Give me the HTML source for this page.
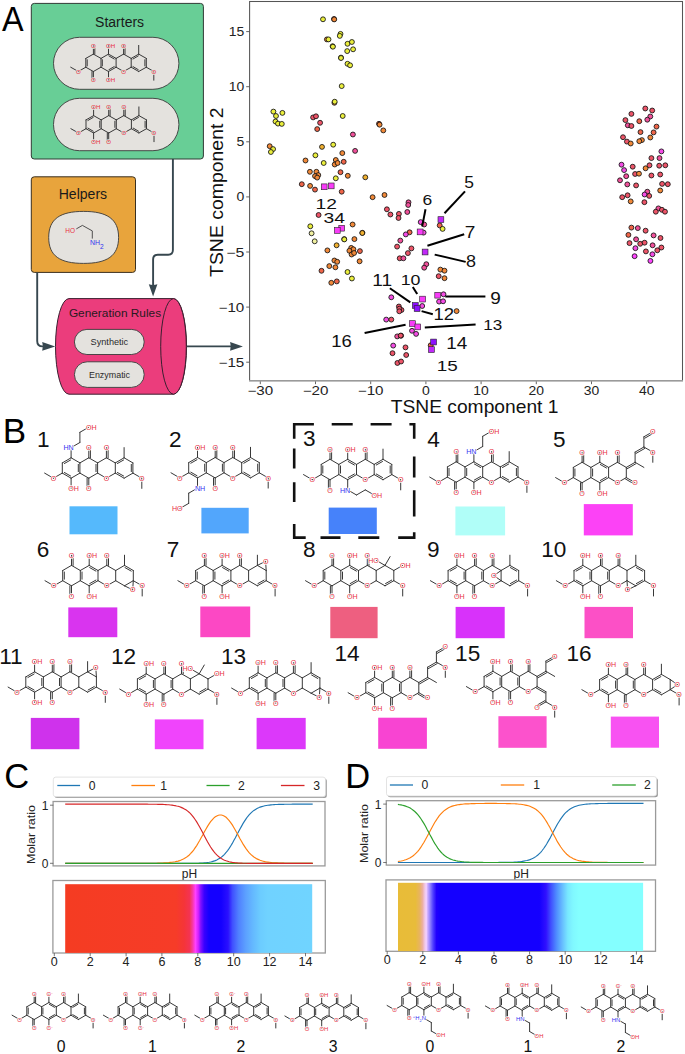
<!DOCTYPE html>
<html><head><meta charset="utf-8"><style>
html,body{margin:0;padding:0;background:#fff;}
body{width:685px;height:1054px;overflow:hidden;position:relative;}
svg{position:absolute;left:0;top:0;}
text{font-family:"Liberation Sans", sans-serif;}
.lb{paint-order:stroke;stroke:#fff;stroke-width:1.5px;stroke-linejoin:round;}
.molA .lb{stroke:#e4e2de;}
</style></head><body>
<svg width="685" height="1054" viewBox="0 0 685 1054">
<text x="2" y="30.8" font-size="35.5" fill="#000" textLength="21.6" lengthAdjust="spacingAndGlyphs">A</text>
<rect x="31.3" y="3.4" width="172.1" height="155.6" rx="3" fill="#68ce96" stroke="#2f3a34" stroke-width="1"/>
<text x="119.6" y="26.6" font-size="14" text-anchor="middle" fill="#1a1a1a" textLength="49" lengthAdjust="spacingAndGlyphs">Starters</text>
<rect x="53.5" y="37.3" width="125.4" height="52" rx="26" fill="#e4e2de" stroke="#3a3a3a" stroke-width="0.9"/>
<rect x="53.5" y="98.3" width="125.4" height="52.4" rx="26" fill="#e4e2de" stroke="#3a3a3a" stroke-width="0.9"/>
<rect x="31.3" y="176.8" width="104.2" height="95.6" rx="3" fill="#e8a43c" stroke="#3a3020" stroke-width="1"/>
<text x="82.9" y="198.9" font-size="14" text-anchor="middle" fill="#1a1a1a" textLength="48.4" lengthAdjust="spacingAndGlyphs">Helpers</text>
<path d="M48.7,237.4 C48.7,219 60,211.4 83.6,211.4 C107,211.4 118.6,219 118.6,237.4 C118.6,256 107,263.4 83.6,263.4 C60,263.4 48.7,256 48.7,237.4 Z" fill="#e4e2de" stroke="#3a3a3a" stroke-width="0.9"/>
<path d="M76.3,228.9 L82.4,225.4 L92.3,230.9 L92.3,238.6" stroke="#404040" stroke-width="0.9" fill="none"/>
<text x="70.2" y="233.4" font-size="7.3" fill="#e8303f" text-anchor="middle" textLength="9.7" lengthAdjust="spacingAndGlyphs">HO</text>
<text x="90" y="245.1" font-size="7.3" fill="#3434f0" textLength="10" lengthAdjust="spacingAndGlyphs">NH</text><text x="99.9" y="248.6" font-size="6.6" fill="#3434f0">2</text>
<path d="M172.9,159 L172.9,250 Q172.9,254.7 168.2,254.7 L157.8,254.7 Q153.1,254.7 153.1,259.4 L153.1,286" stroke="#37474f" stroke-width="1.9" fill="none"/>
<path d="M148.8,284.2 Q153.1,285.6 157.4,284.2 L153.1,296.6 Z" fill="#37474f"/>
<path d="M37.2,272.5 L37.2,341 Q37.2,346.4 42.6,346.4 L46,346.4" stroke="#37474f" stroke-width="1.9" fill="none"/>
<path d="M42.2,342.1 Q43.6,346.4 42.2,350.7 L55.2,346.4 Z" fill="#37474f"/>
<path d="M186.3,346.4 L233,346.4" stroke="#37474f" stroke-width="1.9" fill="none"/>
<path d="M230.1,342.1 Q231.5,346.4 230.1,350.7 L242.9,346.4 Z" fill="#37474f"/>
<path d="M69,298.6 L173.5,298.6 A13,47.8 0 0 1 173.5,394.2 L69,394.2 A13.5,47.8 0 0 1 69,298.6 Z" fill="#eb3d7c" stroke="#3a2030" stroke-width="1"/>
<ellipse cx="173.5" cy="346.4" rx="12.8" ry="47.8" fill="#eb3d7c" stroke="#3a2030" stroke-width="1"/>
<text x="115" y="316.9" font-size="11.8" text-anchor="middle" fill="#2a1a20" textLength="92.2" lengthAdjust="spacingAndGlyphs">Generation Rules</text>
<rect x="74.4" y="329.4" width="69.8" height="25.1" rx="12.5" fill="#e4e2de" stroke="#3a3a3a" stroke-width="0.9"/>
<rect x="74.4" y="361.8" width="69.8" height="25.6" rx="12.8" fill="#e4e2de" stroke="#3a3a3a" stroke-width="0.9"/>
<text x="109.4" y="345.3" font-size="9.9" text-anchor="middle" fill="#2a2a2a" textLength="37.6" lengthAdjust="spacingAndGlyphs">Synthetic</text>
<text x="109.5" y="377.9" font-size="9.9" text-anchor="middle" fill="#2a2a2a" textLength="41.1" lengthAdjust="spacingAndGlyphs">Enzymatic</text>
<rect x="249.6" y="1.5" width="432.9" height="379.1" fill="#fff" stroke="#555" stroke-width="1.05"/>
<line x1="249" y1="380.8" x2="683" y2="380.8" stroke="#9a9a9a" stroke-width="1.6"/>
<line x1="246.2" y1="31.6" x2="249.6" y2="31.6" stroke="#555" stroke-width="0.9"/>
<text x="244.3" y="36.1" font-size="12" text-anchor="end" fill="#222" textLength="15.5" lengthAdjust="spacingAndGlyphs">15</text>
<line x1="246.2" y1="86.7" x2="249.6" y2="86.7" stroke="#555" stroke-width="0.9"/>
<text x="244.3" y="91.2" font-size="12" text-anchor="end" fill="#222" textLength="15.5" lengthAdjust="spacingAndGlyphs">10</text>
<line x1="246.2" y1="141.8" x2="249.6" y2="141.8" stroke="#555" stroke-width="0.9"/>
<text x="244.3" y="146.3" font-size="12" text-anchor="end" fill="#222" textLength="7.8" lengthAdjust="spacingAndGlyphs">5</text>
<line x1="246.2" y1="196.9" x2="249.6" y2="196.9" stroke="#555" stroke-width="0.9"/>
<text x="244.3" y="201.4" font-size="12" text-anchor="end" fill="#222" textLength="7.8" lengthAdjust="spacingAndGlyphs">0</text>
<line x1="246.2" y1="252.0" x2="249.6" y2="252.0" stroke="#555" stroke-width="0.9"/>
<text x="244.3" y="256.5" font-size="12" text-anchor="end" fill="#222" textLength="18.0" lengthAdjust="spacingAndGlyphs">&#8722;5</text>
<line x1="246.2" y1="307.1" x2="249.6" y2="307.1" stroke="#555" stroke-width="0.9"/>
<text x="244.3" y="311.6" font-size="12" text-anchor="end" fill="#222" textLength="25.7" lengthAdjust="spacingAndGlyphs">&#8722;10</text>
<line x1="246.2" y1="362.2" x2="249.6" y2="362.2" stroke="#555" stroke-width="0.9"/>
<text x="244.3" y="366.7" font-size="12" text-anchor="end" fill="#222" textLength="25.7" lengthAdjust="spacingAndGlyphs">&#8722;15</text>
<line x1="260.3" y1="381.4" x2="260.3" y2="384.2" stroke="#555" stroke-width="0.9"/>
<text x="260.3" y="395.1" font-size="12" text-anchor="middle" fill="#222" textLength="25.7" lengthAdjust="spacingAndGlyphs">&#8722;30</text>
<line x1="315.5" y1="381.4" x2="315.5" y2="384.2" stroke="#555" stroke-width="0.9"/>
<text x="315.5" y="395.1" font-size="12" text-anchor="middle" fill="#222" textLength="25.7" lengthAdjust="spacingAndGlyphs">&#8722;20</text>
<line x1="370.7" y1="381.4" x2="370.7" y2="384.2" stroke="#555" stroke-width="0.9"/>
<text x="370.7" y="395.1" font-size="12" text-anchor="middle" fill="#222" textLength="25.7" lengthAdjust="spacingAndGlyphs">&#8722;10</text>
<line x1="425.9" y1="381.4" x2="425.9" y2="384.2" stroke="#555" stroke-width="0.9"/>
<text x="425.9" y="395.1" font-size="12" text-anchor="middle" fill="#222" textLength="7.8" lengthAdjust="spacingAndGlyphs">0</text>
<line x1="481.1" y1="381.4" x2="481.1" y2="384.2" stroke="#555" stroke-width="0.9"/>
<text x="481.1" y="395.1" font-size="12" text-anchor="middle" fill="#222" textLength="15.5" lengthAdjust="spacingAndGlyphs">10</text>
<line x1="536.3" y1="381.4" x2="536.3" y2="384.2" stroke="#555" stroke-width="0.9"/>
<text x="536.3" y="395.1" font-size="12" text-anchor="middle" fill="#222" textLength="15.5" lengthAdjust="spacingAndGlyphs">20</text>
<line x1="591.5" y1="381.4" x2="591.5" y2="384.2" stroke="#555" stroke-width="0.9"/>
<text x="591.5" y="395.1" font-size="12" text-anchor="middle" fill="#222" textLength="15.5" lengthAdjust="spacingAndGlyphs">30</text>
<line x1="646.7" y1="381.4" x2="646.7" y2="384.2" stroke="#555" stroke-width="0.9"/>
<text x="646.7" y="395.1" font-size="12" text-anchor="middle" fill="#222" textLength="15.5" lengthAdjust="spacingAndGlyphs">40</text>
<text x="474.6" y="413.4" font-size="19" text-anchor="middle" fill="#111" textLength="167.8" lengthAdjust="spacingAndGlyphs">TSNE component 1</text>
<text transform="translate(222.7,192.2) rotate(-90)" x="0" y="0" font-size="19" text-anchor="middle" fill="#111" textLength="169.5" lengthAdjust="spacingAndGlyphs">TSNE component 2</text>
<circle cx="323.0" cy="19.3" r="2.45" fill="#eaee3c" stroke="#111" stroke-width="0.85"/>
<circle cx="334.0" cy="19.0" r="2.45" fill="#ee6448" stroke="#111" stroke-width="0.85"/>
<circle cx="334.2" cy="19.4" r="2.45" fill="#f08838" stroke="#111" stroke-width="0.85"/>
<circle cx="340.5" cy="33.9" r="2.45" fill="#eaee3c" stroke="#111" stroke-width="0.85"/>
<circle cx="339.8" cy="35.9" r="2.45" fill="#eaee3c" stroke="#111" stroke-width="0.85"/>
<circle cx="326.9" cy="39.4" r="2.45" fill="#f08838" stroke="#111" stroke-width="0.85"/>
<circle cx="328.5" cy="39.4" r="2.45" fill="#eaee3c" stroke="#111" stroke-width="0.85"/>
<circle cx="332.6" cy="46.2" r="2.45" fill="#eaee3c" stroke="#111" stroke-width="0.85"/>
<circle cx="332.9" cy="46.7" r="2.45" fill="#eaee3c" stroke="#111" stroke-width="0.85"/>
<circle cx="347.5" cy="43.8" r="2.45" fill="#eaee3c" stroke="#111" stroke-width="0.85"/>
<circle cx="351.9" cy="42.0" r="2.45" fill="#eaee3c" stroke="#111" stroke-width="0.85"/>
<circle cx="347.2" cy="51.1" r="2.45" fill="#eaee3c" stroke="#111" stroke-width="0.85"/>
<circle cx="353.1" cy="49.3" r="2.45" fill="#eaee3c" stroke="#111" stroke-width="0.85"/>
<circle cx="341.0" cy="57.6" r="2.45" fill="#eaee3c" stroke="#111" stroke-width="0.85"/>
<circle cx="341.0" cy="58.0" r="2.45" fill="#eaee3c" stroke="#111" stroke-width="0.85"/>
<circle cx="347.5" cy="63.8" r="2.45" fill="#eaee3c" stroke="#111" stroke-width="0.85"/>
<circle cx="350.1" cy="65.3" r="2.45" fill="#eaee3c" stroke="#111" stroke-width="0.85"/>
<circle cx="341.7" cy="86.1" r="2.45" fill="#eaee3c" stroke="#111" stroke-width="0.85"/>
<circle cx="334.4" cy="102.8" r="2.45" fill="#f08838" stroke="#111" stroke-width="0.85"/>
<circle cx="334.7" cy="101.7" r="2.45" fill="#eaee3c" stroke="#111" stroke-width="0.85"/>
<circle cx="342.7" cy="116.0" r="2.45" fill="#eaee3c" stroke="#111" stroke-width="0.85"/>
<circle cx="273.4" cy="111.6" r="2.45" fill="#eaee3c" stroke="#111" stroke-width="0.85"/>
<circle cx="282.4" cy="112.9" r="2.45" fill="#eaee3c" stroke="#111" stroke-width="0.85"/>
<circle cx="276.0" cy="116.0" r="2.45" fill="#eaee3c" stroke="#111" stroke-width="0.85"/>
<circle cx="275.5" cy="121.5" r="2.45" fill="#eaee3c" stroke="#111" stroke-width="0.85"/>
<circle cx="278.0" cy="123.6" r="2.45" fill="#eaee3c" stroke="#111" stroke-width="0.85"/>
<circle cx="281.8" cy="123.9" r="2.45" fill="#eaee3c" stroke="#111" stroke-width="0.85"/>
<circle cx="269.7" cy="146.2" r="2.45" fill="#f08838" stroke="#111" stroke-width="0.85"/>
<circle cx="273.1" cy="149.1" r="2.45" fill="#eaee3c" stroke="#111" stroke-width="0.85"/>
<circle cx="270.9" cy="152.0" r="2.45" fill="#eaee3c" stroke="#111" stroke-width="0.85"/>
<circle cx="313.1" cy="117.4" r="2.45" fill="#ec5468" stroke="#111" stroke-width="0.85"/>
<circle cx="316.0" cy="116.3" r="2.45" fill="#ec5468" stroke="#111" stroke-width="0.85"/>
<circle cx="320.1" cy="122.8" r="2.45" fill="#ec5468" stroke="#111" stroke-width="0.85"/>
<circle cx="317.2" cy="129.1" r="2.45" fill="#ee6448" stroke="#111" stroke-width="0.85"/>
<circle cx="379.0" cy="123.8" r="2.45" fill="#ee6448" stroke="#111" stroke-width="0.85"/>
<circle cx="379.6" cy="124.7" r="2.45" fill="#f08838" stroke="#111" stroke-width="0.85"/>
<circle cx="383.3" cy="130.4" r="2.45" fill="#f08838" stroke="#111" stroke-width="0.85"/>
<circle cx="352.9" cy="134.5" r="2.45" fill="#f0509a" stroke="#111" stroke-width="0.85"/>
<circle cx="355.1" cy="150.9" r="2.45" fill="#f0509a" stroke="#111" stroke-width="0.85"/>
<circle cx="322.0" cy="146.9" r="2.45" fill="#f0b030" stroke="#111" stroke-width="0.85"/>
<circle cx="333.2" cy="144.7" r="2.45" fill="#eaee3c" stroke="#111" stroke-width="0.85"/>
<circle cx="342.3" cy="153.1" r="2.45" fill="#f08838" stroke="#111" stroke-width="0.85"/>
<circle cx="315.4" cy="155.3" r="2.45" fill="#eaee3c" stroke="#111" stroke-width="0.85"/>
<circle cx="305.5" cy="160.5" r="2.45" fill="#f08838" stroke="#111" stroke-width="0.85"/>
<circle cx="323.7" cy="163.0" r="2.45" fill="#eaee3c" stroke="#111" stroke-width="0.85"/>
<circle cx="335.8" cy="160.0" r="2.45" fill="#f08838" stroke="#111" stroke-width="0.85"/>
<circle cx="334.7" cy="164.5" r="2.45" fill="#f08838" stroke="#111" stroke-width="0.85"/>
<circle cx="337.6" cy="163.0" r="2.45" fill="#f08838" stroke="#111" stroke-width="0.85"/>
<circle cx="343.7" cy="161.8" r="2.45" fill="#ee6448" stroke="#111" stroke-width="0.85"/>
<circle cx="309.9" cy="171.8" r="2.45" fill="#f08838" stroke="#111" stroke-width="0.85"/>
<circle cx="316.4" cy="171.8" r="2.45" fill="#f08838" stroke="#111" stroke-width="0.85"/>
<circle cx="318.3" cy="175.1" r="2.45" fill="#f08838" stroke="#111" stroke-width="0.85"/>
<circle cx="315.0" cy="176.1" r="2.45" fill="#f08838" stroke="#111" stroke-width="0.85"/>
<circle cx="317.2" cy="177.6" r="2.45" fill="#f08838" stroke="#111" stroke-width="0.85"/>
<circle cx="340.5" cy="172.2" r="2.45" fill="#ee6448" stroke="#111" stroke-width="0.85"/>
<circle cx="347.8" cy="175.8" r="2.45" fill="#f08838" stroke="#111" stroke-width="0.85"/>
<circle cx="335.8" cy="178.3" r="2.45" fill="#eaee3c" stroke="#111" stroke-width="0.85"/>
<circle cx="365.3" cy="177.3" r="2.45" fill="#f0b030" stroke="#111" stroke-width="0.85"/>
<circle cx="301.8" cy="184.2" r="2.45" fill="#ee6448" stroke="#111" stroke-width="0.85"/>
<circle cx="310.1" cy="185.9" r="2.45" fill="#f08838" stroke="#111" stroke-width="0.85"/>
<circle cx="315.0" cy="189.6" r="2.45" fill="#ee6448" stroke="#111" stroke-width="0.85"/>
<circle cx="341.7" cy="191.7" r="2.45" fill="#ee6448" stroke="#111" stroke-width="0.85"/>
<circle cx="318.6" cy="215.0" r="2.45" fill="#ec5468" stroke="#111" stroke-width="0.85"/>
<circle cx="310.3" cy="226.3" r="2.45" fill="#eaee3c" stroke="#111" stroke-width="0.85"/>
<circle cx="311.6" cy="233.3" r="2.45" fill="#f0f0a0" stroke="#111" stroke-width="0.85"/>
<circle cx="314.7" cy="241.3" r="2.45" fill="#f0f0a0" stroke="#111" stroke-width="0.85"/>
<circle cx="344.2" cy="239.1" r="2.45" fill="#eaee3c" stroke="#111" stroke-width="0.85"/>
<circle cx="336.6" cy="245.3" r="2.45" fill="#f0b030" stroke="#111" stroke-width="0.85"/>
<circle cx="327.4" cy="250.4" r="2.45" fill="#f08838" stroke="#111" stroke-width="0.85"/>
<circle cx="334.4" cy="260.5" r="2.45" fill="#f08838" stroke="#111" stroke-width="0.85"/>
<circle cx="337.2" cy="261.8" r="2.45" fill="#f08838" stroke="#111" stroke-width="0.85"/>
<circle cx="329.3" cy="266.1" r="2.45" fill="#f08838" stroke="#111" stroke-width="0.85"/>
<circle cx="335.4" cy="267.3" r="2.45" fill="#f08838" stroke="#111" stroke-width="0.85"/>
<circle cx="321.5" cy="270.8" r="2.45" fill="#ee6448" stroke="#111" stroke-width="0.85"/>
<circle cx="347.5" cy="272.0" r="2.45" fill="#eaee3c" stroke="#111" stroke-width="0.85"/>
<circle cx="351.9" cy="278.5" r="2.45" fill="#eaee3c" stroke="#111" stroke-width="0.85"/>
<circle cx="331.3" cy="282.8" r="2.45" fill="#f08838" stroke="#111" stroke-width="0.85"/>
<circle cx="336.8" cy="281.4" r="2.45" fill="#ee6448" stroke="#111" stroke-width="0.85"/>
<circle cx="352.6" cy="224.5" r="2.45" fill="#f08838" stroke="#111" stroke-width="0.85"/>
<circle cx="362.4" cy="232.8" r="2.45" fill="#f08838" stroke="#111" stroke-width="0.85"/>
<circle cx="344.3" cy="239.4" r="2.45" fill="#eaee3c" stroke="#111" stroke-width="0.85"/>
<circle cx="354.4" cy="239.1" r="2.45" fill="#f08838" stroke="#111" stroke-width="0.85"/>
<circle cx="351.2" cy="247.9" r="2.45" fill="#f08838" stroke="#111" stroke-width="0.85"/>
<circle cx="353.4" cy="249.3" r="2.45" fill="#f08838" stroke="#111" stroke-width="0.85"/>
<circle cx="349.4" cy="250.8" r="2.45" fill="#f08838" stroke="#111" stroke-width="0.85"/>
<circle cx="351.6" cy="254.5" r="2.45" fill="#f08838" stroke="#111" stroke-width="0.85"/>
<circle cx="354.1" cy="253.0" r="2.45" fill="#f08838" stroke="#111" stroke-width="0.85"/>
<circle cx="359.9" cy="251.1" r="2.45" fill="#ee6448" stroke="#111" stroke-width="0.85"/>
<circle cx="359.6" cy="261.3" r="2.45" fill="#f08838" stroke="#111" stroke-width="0.85"/>
<circle cx="362.3" cy="233.0" r="2.45" fill="#f0b030" stroke="#111" stroke-width="0.85"/>
<circle cx="372.6" cy="197.2" r="2.45" fill="#f08838" stroke="#111" stroke-width="0.85"/>
<circle cx="384.5" cy="195.0" r="2.45" fill="#f08838" stroke="#111" stroke-width="0.85"/>
<circle cx="408.5" cy="202.3" r="2.45" fill="#f0509a" stroke="#111" stroke-width="0.85"/>
<circle cx="408.2" cy="205.0" r="2.45" fill="#f0509a" stroke="#111" stroke-width="0.85"/>
<circle cx="386.9" cy="209.3" r="2.45" fill="#ec5468" stroke="#111" stroke-width="0.85"/>
<circle cx="390.4" cy="214.5" r="2.45" fill="#ec5468" stroke="#111" stroke-width="0.85"/>
<circle cx="398.9" cy="213.9" r="2.45" fill="#ec5468" stroke="#111" stroke-width="0.85"/>
<circle cx="398.5" cy="218.0" r="2.45" fill="#ec5468" stroke="#111" stroke-width="0.85"/>
<circle cx="407.3" cy="212.0" r="2.45" fill="#f0509a" stroke="#111" stroke-width="0.85"/>
<circle cx="420.7" cy="222.1" r="2.45" fill="#f44ce4" stroke="#111" stroke-width="0.85"/>
<circle cx="424.2" cy="224.5" r="2.45" fill="#f0509a" stroke="#111" stroke-width="0.85"/>
<circle cx="423.6" cy="232.6" r="2.45" fill="#f44ce4" stroke="#111" stroke-width="0.85"/>
<circle cx="409.6" cy="232.3" r="2.45" fill="#ee6448" stroke="#111" stroke-width="0.85"/>
<circle cx="405.8" cy="234.4" r="2.45" fill="#f44ce4" stroke="#111" stroke-width="0.85"/>
<circle cx="400.3" cy="240.6" r="2.45" fill="#f0509a" stroke="#111" stroke-width="0.85"/>
<circle cx="397.1" cy="246.6" r="2.45" fill="#ec5468" stroke="#111" stroke-width="0.85"/>
<circle cx="411.4" cy="248.4" r="2.45" fill="#ec5468" stroke="#111" stroke-width="0.85"/>
<circle cx="407.9" cy="253.1" r="2.45" fill="#ec5468" stroke="#111" stroke-width="0.85"/>
<circle cx="399.7" cy="258.3" r="2.45" fill="#ec5468" stroke="#111" stroke-width="0.85"/>
<circle cx="403.4" cy="258.3" r="2.45" fill="#f0509a" stroke="#111" stroke-width="0.85"/>
<circle cx="426.3" cy="264.2" r="2.45" fill="#f0509a" stroke="#111" stroke-width="0.85"/>
<circle cx="424.2" cy="267.7" r="2.45" fill="#f0509a" stroke="#111" stroke-width="0.85"/>
<circle cx="439.7" cy="225.4" r="2.45" fill="#ee6448" stroke="#111" stroke-width="0.85"/>
<circle cx="442.6" cy="228.9" r="2.45" fill="#eaee3c" stroke="#111" stroke-width="0.85"/>
<circle cx="440.4" cy="269.6" r="2.45" fill="#f08838" stroke="#111" stroke-width="0.85"/>
<circle cx="444.5" cy="270.7" r="2.45" fill="#f08838" stroke="#111" stroke-width="0.85"/>
<circle cx="438.7" cy="276.2" r="2.45" fill="#ec5468" stroke="#111" stroke-width="0.85"/>
<circle cx="444.5" cy="278.2" r="2.45" fill="#f08838" stroke="#111" stroke-width="0.85"/>
<circle cx="443.5" cy="294.3" r="2.45" fill="#f44ce4" stroke="#111" stroke-width="0.85"/>
<circle cx="439.1" cy="301.6" r="2.45" fill="#f44ce4" stroke="#111" stroke-width="0.85"/>
<circle cx="443.1" cy="301.3" r="2.45" fill="#f44ce4" stroke="#111" stroke-width="0.85"/>
<circle cx="422.2" cy="306.0" r="2.45" fill="#f44ce4" stroke="#111" stroke-width="0.85"/>
<circle cx="456.6" cy="311.1" r="2.45" fill="#f08838" stroke="#111" stroke-width="0.85"/>
<circle cx="401.5" cy="310.0" r="2.45" fill="#ec5468" stroke="#111" stroke-width="0.85"/>
<circle cx="391.3" cy="297.3" r="2.45" fill="#f44ce4" stroke="#111" stroke-width="0.85"/>
<circle cx="398.9" cy="306.5" r="2.45" fill="#ec5468" stroke="#111" stroke-width="0.85"/>
<circle cx="399.3" cy="308.7" r="2.45" fill="#ec5468" stroke="#111" stroke-width="0.85"/>
<circle cx="399.3" cy="311.3" r="2.45" fill="#ec5468" stroke="#111" stroke-width="0.85"/>
<circle cx="386.2" cy="319.6" r="2.45" fill="#f44ce4" stroke="#111" stroke-width="0.85"/>
<circle cx="391.3" cy="319.6" r="2.45" fill="#ec5468" stroke="#111" stroke-width="0.85"/>
<circle cx="412.0" cy="330.8" r="2.45" fill="#f44ce4" stroke="#111" stroke-width="0.85"/>
<circle cx="416.1" cy="333.9" r="2.45" fill="#f44ce4" stroke="#111" stroke-width="0.85"/>
<circle cx="397.2" cy="336.4" r="2.45" fill="#f0509a" stroke="#111" stroke-width="0.85"/>
<circle cx="401.1" cy="335.7" r="2.45" fill="#ec5468" stroke="#111" stroke-width="0.85"/>
<circle cx="400.7" cy="335.6" r="2.45" fill="#ec5468" stroke="#111" stroke-width="0.85"/>
<circle cx="393.2" cy="345.6" r="2.45" fill="#f44ce4" stroke="#111" stroke-width="0.85"/>
<circle cx="405.5" cy="347.4" r="2.45" fill="#ec5468" stroke="#111" stroke-width="0.85"/>
<circle cx="392.5" cy="353.2" r="2.45" fill="#ec5468" stroke="#111" stroke-width="0.85"/>
<circle cx="406.2" cy="355.0" r="2.45" fill="#ec5468" stroke="#111" stroke-width="0.85"/>
<circle cx="397.4" cy="363.0" r="2.45" fill="#ec5468" stroke="#111" stroke-width="0.85"/>
<circle cx="401.1" cy="361.5" r="2.45" fill="#ec5468" stroke="#111" stroke-width="0.85"/>
<circle cx="430.7" cy="345.3" r="2.45" fill="#ee6448" stroke="#111" stroke-width="0.85"/>
<circle cx="645.3" cy="108.5" r="2.45" fill="#ec5468" stroke="#111" stroke-width="0.85"/>
<circle cx="652.2" cy="110.5" r="2.45" fill="#ec5468" stroke="#111" stroke-width="0.85"/>
<circle cx="631.4" cy="113.9" r="2.45" fill="#ec5468" stroke="#111" stroke-width="0.85"/>
<circle cx="650.3" cy="116.5" r="2.45" fill="#f0509a" stroke="#111" stroke-width="0.85"/>
<circle cx="647.3" cy="119.7" r="2.45" fill="#f0509a" stroke="#111" stroke-width="0.85"/>
<circle cx="625.4" cy="120.1" r="2.45" fill="#ec5468" stroke="#111" stroke-width="0.85"/>
<circle cx="639.3" cy="121.2" r="2.45" fill="#ee6448" stroke="#111" stroke-width="0.85"/>
<circle cx="627.8" cy="125.3" r="2.45" fill="#f0509a" stroke="#111" stroke-width="0.85"/>
<circle cx="631.4" cy="126.0" r="2.45" fill="#ec5468" stroke="#111" stroke-width="0.85"/>
<circle cx="656.5" cy="126.6" r="2.45" fill="#ee6448" stroke="#111" stroke-width="0.85"/>
<circle cx="640.5" cy="132.1" r="2.45" fill="#ee6448" stroke="#111" stroke-width="0.85"/>
<circle cx="653.6" cy="132.4" r="2.45" fill="#ee6448" stroke="#111" stroke-width="0.85"/>
<circle cx="623.0" cy="137.2" r="2.45" fill="#ec5468" stroke="#111" stroke-width="0.85"/>
<circle cx="626.9" cy="141.6" r="2.45" fill="#ec5468" stroke="#111" stroke-width="0.85"/>
<circle cx="630.7" cy="143.5" r="2.45" fill="#f08838" stroke="#111" stroke-width="0.85"/>
<circle cx="641.9" cy="140.1" r="2.45" fill="#f08838" stroke="#111" stroke-width="0.85"/>
<circle cx="639.3" cy="141.2" r="2.45" fill="#f08838" stroke="#111" stroke-width="0.85"/>
<circle cx="650.3" cy="137.5" r="2.45" fill="#f08838" stroke="#111" stroke-width="0.85"/>
<circle cx="661.4" cy="151.4" r="2.45" fill="#f44ce4" stroke="#111" stroke-width="0.85"/>
<circle cx="651.4" cy="158.1" r="2.45" fill="#ec5468" stroke="#111" stroke-width="0.85"/>
<circle cx="659.5" cy="158.1" r="2.45" fill="#f0509a" stroke="#111" stroke-width="0.85"/>
<circle cx="621.5" cy="164.7" r="2.45" fill="#f44ce4" stroke="#111" stroke-width="0.85"/>
<circle cx="632.7" cy="166.7" r="2.45" fill="#ec5468" stroke="#111" stroke-width="0.85"/>
<circle cx="649.5" cy="165.3" r="2.45" fill="#ec5468" stroke="#111" stroke-width="0.85"/>
<circle cx="645.6" cy="168.3" r="2.45" fill="#f08838" stroke="#111" stroke-width="0.85"/>
<circle cx="659.2" cy="165.7" r="2.45" fill="#ec5468" stroke="#111" stroke-width="0.85"/>
<circle cx="665.3" cy="165.3" r="2.45" fill="#ec5468" stroke="#111" stroke-width="0.85"/>
<circle cx="624.1" cy="170.1" r="2.45" fill="#f44ce4" stroke="#111" stroke-width="0.85"/>
<circle cx="635.1" cy="174.0" r="2.45" fill="#ec5468" stroke="#111" stroke-width="0.85"/>
<circle cx="639.0" cy="173.7" r="2.45" fill="#f08838" stroke="#111" stroke-width="0.85"/>
<circle cx="626.2" cy="176.2" r="2.45" fill="#f0509a" stroke="#111" stroke-width="0.85"/>
<circle cx="651.4" cy="175.5" r="2.45" fill="#ec5468" stroke="#111" stroke-width="0.85"/>
<circle cx="660.2" cy="174.5" r="2.45" fill="#ec5468" stroke="#111" stroke-width="0.85"/>
<circle cx="620.0" cy="180.3" r="2.45" fill="#f0509a" stroke="#111" stroke-width="0.85"/>
<circle cx="627.3" cy="184.4" r="2.45" fill="#f0509a" stroke="#111" stroke-width="0.85"/>
<circle cx="636.1" cy="185.4" r="2.45" fill="#ec5468" stroke="#111" stroke-width="0.85"/>
<circle cx="662.1" cy="183.9" r="2.45" fill="#ec5468" stroke="#111" stroke-width="0.85"/>
<circle cx="667.8" cy="184.2" r="2.45" fill="#ec5468" stroke="#111" stroke-width="0.85"/>
<circle cx="660.2" cy="190.5" r="2.45" fill="#f08838" stroke="#111" stroke-width="0.85"/>
<circle cx="647.3" cy="191.7" r="2.45" fill="#f0509a" stroke="#111" stroke-width="0.85"/>
<circle cx="644.6" cy="194.5" r="2.45" fill="#f44ce4" stroke="#111" stroke-width="0.85"/>
<circle cx="649.2" cy="195.9" r="2.45" fill="#ec5468" stroke="#111" stroke-width="0.85"/>
<circle cx="622.2" cy="197.2" r="2.45" fill="#ec5468" stroke="#111" stroke-width="0.85"/>
<circle cx="627.6" cy="195.3" r="2.45" fill="#ec5468" stroke="#111" stroke-width="0.85"/>
<circle cx="630.7" cy="201.4" r="2.45" fill="#f08838" stroke="#111" stroke-width="0.85"/>
<circle cx="644.4" cy="202.2" r="2.45" fill="#ec5468" stroke="#111" stroke-width="0.85"/>
<circle cx="658.4" cy="208.4" r="2.45" fill="#f0509a" stroke="#111" stroke-width="0.85"/>
<circle cx="655.8" cy="211.7" r="2.45" fill="#ec5468" stroke="#111" stroke-width="0.85"/>
<circle cx="661.9" cy="209.8" r="2.45" fill="#ec5468" stroke="#111" stroke-width="0.85"/>
<circle cx="665.0" cy="211.7" r="2.45" fill="#ec5468" stroke="#111" stroke-width="0.85"/>
<circle cx="631.4" cy="227.6" r="2.45" fill="#ee6448" stroke="#111" stroke-width="0.85"/>
<circle cx="637.8" cy="228.1" r="2.45" fill="#f0509a" stroke="#111" stroke-width="0.85"/>
<circle cx="645.6" cy="230.7" r="2.45" fill="#ec5468" stroke="#111" stroke-width="0.85"/>
<circle cx="628.4" cy="234.9" r="2.45" fill="#ee6448" stroke="#111" stroke-width="0.85"/>
<circle cx="653.6" cy="235.4" r="2.45" fill="#f0509a" stroke="#111" stroke-width="0.85"/>
<circle cx="660.5" cy="238.0" r="2.45" fill="#ec5468" stroke="#111" stroke-width="0.85"/>
<circle cx="636.1" cy="239.3" r="2.45" fill="#f0509a" stroke="#111" stroke-width="0.85"/>
<circle cx="629.5" cy="243.1" r="2.45" fill="#ec5468" stroke="#111" stroke-width="0.85"/>
<circle cx="640.2" cy="243.8" r="2.45" fill="#ec5468" stroke="#111" stroke-width="0.85"/>
<circle cx="644.6" cy="242.7" r="2.45" fill="#ec5468" stroke="#111" stroke-width="0.85"/>
<circle cx="652.6" cy="245.3" r="2.45" fill="#f0509a" stroke="#111" stroke-width="0.85"/>
<circle cx="635.4" cy="248.2" r="2.45" fill="#f44ce4" stroke="#111" stroke-width="0.85"/>
<circle cx="661.4" cy="247.5" r="2.45" fill="#ec5468" stroke="#111" stroke-width="0.85"/>
<circle cx="657.3" cy="250.3" r="2.45" fill="#ec5468" stroke="#111" stroke-width="0.85"/>
<circle cx="645.9" cy="251.4" r="2.45" fill="#ec5468" stroke="#111" stroke-width="0.85"/>
<circle cx="652.4" cy="254.3" r="2.45" fill="#f44ce4" stroke="#111" stroke-width="0.85"/>
<circle cx="634.6" cy="256.2" r="2.45" fill="#ff44ff" stroke="#111" stroke-width="0.85"/>
<circle cx="650.4" cy="260.9" r="2.45" fill="#ff44ff" stroke="#111" stroke-width="0.85"/>
<rect x="321.3" y="183.9" width="5.8" height="5.8" fill="#f83cf8" stroke="#222" stroke-width="0.6"/>
<rect x="328.3" y="183.0" width="5.8" height="5.8" fill="#f83cf8" stroke="#222" stroke-width="0.6"/>
<rect x="338.8" y="225.3" width="5.8" height="5.8" fill="#f83cf8" stroke="#222" stroke-width="0.6"/>
<rect x="334.4" y="227.5" width="5.8" height="5.8" fill="#f83cf8" stroke="#222" stroke-width="0.6"/>
<rect x="438.0" y="216.7" width="5.8" height="5.8" fill="#c028f8" stroke="#222" stroke-width="0.6"/>
<rect x="417.2" y="229.0" width="5.8" height="5.8" fill="#f83cf8" stroke="#222" stroke-width="0.6"/>
<rect x="422.2" y="249.1" width="5.8" height="5.8" fill="#c028f8" stroke="#222" stroke-width="0.6"/>
<rect x="419.7" y="296.2" width="5.8" height="5.8" fill="#f83cf8" stroke="#222" stroke-width="0.6"/>
<rect x="434.8" y="292.3" width="5.8" height="5.8" fill="#f83cf8" stroke="#222" stroke-width="0.6"/>
<rect x="412.4" y="302.6" width="5.8" height="5.8" fill="#8c10fc" stroke="#222" stroke-width="0.6"/>
<rect x="414.2" y="305.7" width="5.8" height="5.8" fill="#8c10fc" stroke="#222" stroke-width="0.6"/>
<rect x="409.5" y="320.7" width="5.8" height="5.8" fill="#f83cf8" stroke="#222" stroke-width="0.6"/>
<rect x="414.9" y="324.0" width="5.8" height="5.8" fill="#f83cf8" stroke="#222" stroke-width="0.6"/>
<rect x="430.7" y="339.1" width="5.8" height="5.8" fill="#8c10fc" stroke="#222" stroke-width="0.6"/>
<rect x="428.5" y="346.7" width="5.8" height="5.8" fill="#c028f8" stroke="#222" stroke-width="0.6"/>
<line x1="465.0" y1="191.4" x2="444.5" y2="213.3" stroke="#000" stroke-width="2"/>
<line x1="425.5" y1="209.3" x2="422.2" y2="226.4" stroke="#000" stroke-width="2"/>
<line x1="464.2" y1="234.2" x2="427.4" y2="245.8" stroke="#000" stroke-width="2"/>
<line x1="434.7" y1="254.6" x2="465.7" y2="261.9" stroke="#000" stroke-width="2"/>
<line x1="445.3" y1="296.6" x2="485.4" y2="296.6" stroke="#000" stroke-width="2"/>
<line x1="412.8" y1="287.0" x2="417.2" y2="294.0" stroke="#000" stroke-width="2"/>
<line x1="389.9" y1="288.2" x2="410.3" y2="302.4" stroke="#000" stroke-width="2"/>
<line x1="421.6" y1="311.1" x2="432.8" y2="314.2" stroke="#000" stroke-width="2"/>
<line x1="424.8" y1="327.6" x2="475.6" y2="324.4" stroke="#000" stroke-width="2"/>
<line x1="364.6" y1="333.1" x2="405.6" y2="324.7" stroke="#000" stroke-width="2"/>
<text x="469.0" y="188.0" font-size="16.3" text-anchor="middle" fill="#111" textLength="9.7" lengthAdjust="spacingAndGlyphs">5</text>
<text x="427.4" y="204.7" font-size="15.4" text-anchor="middle" fill="#111" textLength="9.7" lengthAdjust="spacingAndGlyphs">6</text>
<text x="470.1" y="238.0" font-size="15.7" text-anchor="middle" fill="#111" textLength="10.6" lengthAdjust="spacingAndGlyphs">7</text>
<text x="471.0" y="266.9" font-size="15.7" text-anchor="middle" fill="#111" textLength="10.0" lengthAdjust="spacingAndGlyphs">8</text>
<text x="495.6" y="304.1" font-size="15.6" text-anchor="middle" fill="#111" textLength="10.6" lengthAdjust="spacingAndGlyphs">9</text>
<text x="410.6" y="285.1" font-size="15.1" text-anchor="middle" fill="#111" textLength="19.8" lengthAdjust="spacingAndGlyphs">10</text>
<text x="382.2" y="285.9" font-size="15.6" text-anchor="middle" fill="#111" textLength="19.8" lengthAdjust="spacingAndGlyphs">11</text>
<text x="443.8" y="320.1" font-size="16.4" text-anchor="middle" fill="#111" textLength="20.7" lengthAdjust="spacingAndGlyphs">12</text>
<text x="492.8" y="329.9" font-size="15.0" text-anchor="middle" fill="#111" textLength="19.0" lengthAdjust="spacingAndGlyphs">13</text>
<text x="456.8" y="348.8" font-size="15.7" text-anchor="middle" fill="#111" textLength="21.0" lengthAdjust="spacingAndGlyphs">14</text>
<text x="447.3" y="371.0" font-size="15.4" text-anchor="middle" fill="#111" textLength="21.0" lengthAdjust="spacingAndGlyphs">15</text>
<text x="341.6" y="346.8" font-size="15.6" text-anchor="middle" fill="#111" textLength="20.6" lengthAdjust="spacingAndGlyphs">16</text>
<text x="326.3" y="209.1" font-size="14.7" text-anchor="middle" fill="#111" textLength="21.4" lengthAdjust="spacingAndGlyphs">12</text>
<text x="334.3" y="223.4" font-size="15.3" text-anchor="middle" fill="#111" textLength="21.4" lengthAdjust="spacingAndGlyphs">34</text>
<text x="2.8" y="442.7" font-size="35" fill="#000">B</text>
<text x="37.1" y="447.2" font-size="22.6" fill="#111">1</text>
<text x="169.0" y="446.9" font-size="22.6" fill="#111">2</text>
<text x="303.1" y="446.2" font-size="22.6" fill="#111">3</text>
<text x="427.3" y="447.4" font-size="22.6" fill="#111">4</text>
<text x="553.1" y="446.9" font-size="22.6" fill="#111">5</text>
<text x="36.8" y="557.2" font-size="22.6" fill="#111">6</text>
<text x="166.8" y="557.2" font-size="22.6" fill="#111">7</text>
<text x="302.9" y="557.1" font-size="22.6" fill="#111">8</text>
<text x="427.0" y="557.1" font-size="22.6" fill="#111">9</text>
<text x="541.2" y="557.1" font-size="22.6" fill="#111">10</text>
<text x="-0.8" y="664.3" font-size="22.6" fill="#111">11</text>
<text x="110.9" y="664.3" font-size="22.6" fill="#111">12</text>
<text x="221.0" y="664.3" font-size="22.6" fill="#111">13</text>
<text x="334.4" y="661.0" font-size="22.6" fill="#111">14</text>
<text x="455.1" y="661.0" font-size="22.6" fill="#111">15</text>
<text x="566.5" y="661.0" font-size="22.6" fill="#111">16</text>
<rect x="69.5" y="506.3" width="48" height="28" fill="#55b9fc"/>
<rect x="201.4" y="507.8" width="47.3" height="25.6" fill="#52a6fc"/>
<rect x="328.7" y="507.6" width="48.1" height="26.4" fill="#4682fa"/>
<rect x="455.4" y="506.5" width="49.7" height="28.9" fill="#b0fef8"/>
<rect x="583.8" y="504.1" width="49" height="31.3" fill="#fc42f6"/>
<rect x="68.3" y="607.4" width="49" height="29.8" fill="#d934ef"/>
<rect x="200.3" y="606.5" width="49.9" height="30.7" fill="#fc48c4"/>
<rect x="330.3" y="606.9" width="47.3" height="31.3" fill="#ee5f80"/>
<rect x="455.6" y="606.9" width="49.1" height="31.3" fill="#d832fa"/>
<rect x="584.5" y="606.9" width="48.5" height="31.3" fill="#fc50c6"/>
<rect x="30.8" y="717.9" width="48.6" height="31.3" fill="#cf32ec"/>
<rect x="154.8" y="719.4" width="48.7" height="29.8" fill="#f044fc"/>
<rect x="256.6" y="717.9" width="49.1" height="31.3" fill="#dc38fa"/>
<rect x="378.2" y="717.7" width="48.7" height="31.1" fill="#f844d2"/>
<rect x="498.4" y="716.2" width="48.2" height="31.6" fill="#fc52cc"/>
<rect x="610.8" y="716.6" width="48.2" height="31.1" fill="#f852f2"/>
<path d="M294.2 424.2H312.6 M333 424.2H351.4 M371.9 424.2H390.3 M410.7 424.2H414.2 M294.2 537.6H304.4 M321.8 537.6H339.2 M359.6 537.6H378 M399.5 537.6H414.2 M294.2 424.2V437.5 M294.2 449.7V467.1 M294.2 483.5V500.8 M294.2 525.4V537.6 M414.2 424.2V437.5 M414.2 457.9V476.3 M414.2 491.6V515.1 M414.2 533.5V537.6" stroke="#111" stroke-width="2.6" fill="none" stroke-linecap="square"/>
<g class="molB">
<path d="M62.3 462.9L71.1 457.8 M71.1 457.8L79.9 462.9 M79.9 462.9L79.9 473.1 M79.9 473.1L71.1 478.2 M71.1 478.2L62.3 473.1 M62.3 473.1L62.3 462.9 M79.9 462.9L88.8 457.8 M88.8 457.8L97.6 462.9 M97.6 462.9L97.6 473.1 M97.6 473.1L88.8 478.2 M88.8 478.2L79.9 473.1 M97.6 462.9L106.4 457.8 M106.4 457.8L115.3 462.9 M115.3 462.9L115.3 473.1 M115.3 473.1L106.4 478.2 M106.4 478.2L97.6 473.1 M115.3 462.9L124.1 457.8 M124.1 457.8L132.9 462.9 M132.9 462.9L132.9 473.1 M132.9 473.1L124.1 478.2 M124.1 478.2L115.3 473.1 M64.4 463.5L70.6 460.0 M78.3 464.4L78.3 471.6 M70.6 476.0L64.4 472.5 M96.0 464.4L96.0 471.6 M117.4 463.5L123.6 460.0 M131.3 464.4L131.3 471.6 M123.6 476.0L117.4 472.5 M62.3 473.1L53.4 478.2 M53.4 478.2L44.6 473.1 M71.1 457.8L71.1 447.6 M71.1 447.6L79.9 442.5 M79.9 442.5L79.9 432.3 M79.9 432.3L88.8 427.2 M71.1 478.2L71.1 488.4 M88.8 457.8L88.8 447.6 M90.4 457.8L90.4 447.6 M88.8 478.2L88.8 488.4 M87.1 478.2L87.1 488.4 M106.4 457.8L106.4 447.6 M108.1 457.8L108.1 447.6 M124.1 457.8L124.1 447.6 M132.9 473.1L141.8 478.2 M141.8 478.2L141.8 488.4" stroke="#383838" stroke-width="1.0" fill="none" stroke-linecap="round"/>
<text x="50.7" y="480.8" font-size="7.1" fill="#e8303f" text-anchor="start" class="lb">O</text>
<text x="73.7" y="450.2" font-size="7.1" fill="#3434f0" text-anchor="end" class="lb">HN</text>
<text x="86.0" y="429.8" font-size="7.1" fill="#e8303f" text-anchor="start" class="lb">OH</text>
<text x="68.3" y="491.0" font-size="7.1" fill="#e8303f" text-anchor="start" class="lb">OH</text>
<text x="86.0" y="450.2" font-size="7.1" fill="#e8303f" text-anchor="start" class="lb">O</text>
<text x="86.0" y="491.0" font-size="7.1" fill="#e8303f" text-anchor="start" class="lb">O</text>
<text x="103.7" y="450.2" font-size="7.1" fill="#e8303f" text-anchor="start" class="lb">O</text>
<text x="103.7" y="480.8" font-size="7.1" fill="#e8303f" text-anchor="start" class="lb">O</text>
<text x="139.0" y="480.8" font-size="7.1" fill="#e8303f" text-anchor="start" class="lb">O</text>
<path d="M188.7 462.6L197.5 457.5 M197.5 457.5L206.3 462.6 M206.3 462.6L206.3 472.8 M206.3 472.8L197.5 477.9 M197.5 477.9L188.7 472.8 M188.7 472.8L188.7 462.6 M206.3 462.6L215.2 457.5 M215.2 457.5L224.0 462.6 M224.0 462.6L224.0 472.8 M224.0 472.8L215.2 477.9 M215.2 477.9L206.3 472.8 M224.0 462.6L232.8 457.5 M232.8 457.5L241.7 462.6 M241.7 462.6L241.7 472.8 M241.7 472.8L232.8 477.9 M232.8 477.9L224.0 472.8 M241.7 462.6L250.5 457.5 M250.5 457.5L259.3 462.6 M259.3 462.6L259.3 472.8 M259.3 472.8L250.5 477.9 M250.5 477.9L241.7 472.8 M190.8 463.2L197.0 459.7 M204.7 464.1L204.7 471.3 M197.0 475.7L190.8 472.2 M222.4 464.1L222.4 471.3 M243.8 463.2L250.0 459.7 M257.7 464.1L257.7 471.3 M250.0 475.7L243.8 472.2 M188.7 472.8L179.8 477.9 M179.8 477.9L171.0 472.8 M197.5 457.5L197.5 447.3 M197.5 477.9L197.5 488.1 M197.5 488.1L188.7 493.2 M188.7 493.2L188.7 503.4 M188.7 503.4L179.8 508.5 M215.2 457.5L215.2 447.3 M216.8 457.5L216.8 447.3 M215.2 477.9L215.2 488.1 M213.5 477.9L213.5 488.1 M232.8 457.5L232.8 447.3 M234.5 457.5L234.5 447.3 M250.5 457.5L250.5 447.3 M259.3 472.8L268.2 477.9 M268.2 477.9L268.2 488.1" stroke="#383838" stroke-width="1.0" fill="none" stroke-linecap="round"/>
<text x="177.1" y="480.5" font-size="7.1" fill="#e8303f" text-anchor="start" class="lb">O</text>
<text x="194.7" y="449.9" font-size="7.1" fill="#e8303f" text-anchor="start" class="lb">OH</text>
<text x="194.9" y="490.7" font-size="7.1" fill="#3434f0" text-anchor="start" class="lb">NH</text>
<text x="182.6" y="511.1" font-size="7.1" fill="#e8303f" text-anchor="end" class="lb">HO</text>
<text x="212.4" y="449.9" font-size="7.1" fill="#e8303f" text-anchor="start" class="lb">O</text>
<text x="212.4" y="490.7" font-size="7.1" fill="#e8303f" text-anchor="start" class="lb">O</text>
<text x="230.1" y="449.9" font-size="7.1" fill="#e8303f" text-anchor="start" class="lb">O</text>
<text x="230.1" y="480.5" font-size="7.1" fill="#e8303f" text-anchor="start" class="lb">O</text>
<text x="265.4" y="480.5" font-size="7.1" fill="#e8303f" text-anchor="start" class="lb">O</text>
<path d="M321.2 464.4L330.0 459.3 M330.0 459.3L338.8 464.4 M338.8 464.4L338.8 474.6 M338.8 474.6L330.0 479.7 M330.0 479.7L321.2 474.6 M321.2 474.6L321.2 464.4 M338.8 464.4L347.7 459.3 M347.7 459.3L356.5 464.4 M356.5 464.4L356.5 474.6 M356.5 474.6L347.7 479.7 M347.7 479.7L338.8 474.6 M356.5 464.4L365.3 459.3 M365.3 459.3L374.2 464.4 M374.2 464.4L374.2 474.6 M374.2 474.6L365.3 479.7 M365.3 479.7L356.5 474.6 M374.2 464.4L383.0 459.3 M383.0 459.3L391.8 464.4 M391.8 464.4L391.8 474.6 M391.8 474.6L383.0 479.7 M383.0 479.7L374.2 474.6 M322.8 473.1L322.8 465.9 M348.2 461.5L354.4 465.0 M354.4 474.0L348.2 477.5 M340.5 473.1L340.5 465.9 M376.3 465.0L382.5 461.5 M390.2 465.9L390.2 473.1 M382.5 477.5L376.3 474.0 M321.2 474.6L312.3 479.7 M312.3 479.7L303.5 474.6 M330.0 459.3L330.0 449.1 M331.6 459.3L331.6 449.1 M330.0 479.7L330.0 489.9 M328.4 479.7L328.4 489.9 M347.7 459.3L347.7 449.1 M347.7 479.7L347.7 489.9 M347.7 489.9L356.5 495.0 M356.5 495.0L365.3 489.9 M365.3 489.9L374.2 495.0 M365.3 459.3L365.3 449.1 M367.0 459.3L367.0 449.1 M383.0 459.3L383.0 449.1 M391.8 474.6L400.7 479.7 M400.7 479.7L400.7 489.9" stroke="#383838" stroke-width="1.0" fill="none" stroke-linecap="round"/>
<text x="309.6" y="482.3" font-size="7.1" fill="#e8303f" text-anchor="start" class="lb">O</text>
<text x="327.2" y="451.7" font-size="7.1" fill="#e8303f" text-anchor="start" class="lb">O</text>
<text x="327.2" y="492.5" font-size="7.1" fill="#e8303f" text-anchor="start" class="lb">O</text>
<text x="344.9" y="451.7" font-size="7.1" fill="#e8303f" text-anchor="start" class="lb">OH</text>
<text x="350.2" y="492.5" font-size="7.1" fill="#3434f0" text-anchor="end" class="lb">HN</text>
<text x="371.4" y="497.6" font-size="7.1" fill="#e8303f" text-anchor="start" class="lb">OH</text>
<text x="362.6" y="451.7" font-size="7.1" fill="#e8303f" text-anchor="start" class="lb">O</text>
<text x="362.6" y="482.3" font-size="7.1" fill="#e8303f" text-anchor="start" class="lb">O</text>
<text x="397.9" y="482.3" font-size="7.1" fill="#e8303f" text-anchor="start" class="lb">O</text>
<path d="M447.4 466.9L456.2 461.8 M456.2 461.8L465.0 466.9 M465.0 466.9L465.0 477.1 M465.0 477.1L456.2 482.2 M456.2 482.2L447.4 477.1 M447.4 477.1L447.4 466.9 M465.0 466.9L473.9 461.8 M473.9 461.8L482.7 466.9 M482.7 466.9L482.7 477.1 M482.7 477.1L473.9 482.2 M473.9 482.2L465.0 477.1 M482.7 466.9L491.5 461.8 M491.5 461.8L500.4 466.9 M500.4 466.9L500.4 477.1 M500.4 477.1L491.5 482.2 M491.5 482.2L482.7 477.1 M500.4 466.9L509.2 461.8 M509.2 461.8L518.0 466.9 M518.0 466.9L518.0 477.1 M518.0 477.1L509.2 482.2 M509.2 482.2L500.4 477.1 M449.0 475.6L449.0 468.4 M474.4 464.0L480.6 467.5 M480.6 476.5L474.4 480.0 M466.7 475.6L466.7 468.4 M502.5 467.5L508.7 464.0 M516.4 468.4L516.4 475.6 M508.7 480.0L502.5 476.5 M447.4 477.1L438.5 482.2 M438.5 482.2L429.7 477.1 M456.2 461.8L456.2 451.6 M457.8 461.8L457.8 451.6 M456.2 482.2L456.2 492.4 M454.6 482.2L454.6 492.4 M473.9 461.8L473.9 451.6 M473.9 451.6L482.7 446.5 M482.7 446.5L482.7 436.3 M482.7 436.3L491.5 431.2 M473.9 482.2L473.9 492.4 M491.5 461.8L491.5 451.6 M493.2 461.8L493.2 451.6 M509.2 461.8L509.2 451.6 M518.0 477.1L526.9 482.2 M526.9 482.2L526.9 492.4" stroke="#383838" stroke-width="1.0" fill="none" stroke-linecap="round"/>
<text x="435.8" y="484.8" font-size="7.1" fill="#e8303f" text-anchor="start" class="lb">O</text>
<text x="453.4" y="454.2" font-size="7.1" fill="#e8303f" text-anchor="start" class="lb">O</text>
<text x="453.4" y="495.0" font-size="7.1" fill="#e8303f" text-anchor="start" class="lb">O</text>
<text x="476.4" y="454.2" font-size="7.1" fill="#3434f0" text-anchor="end" class="lb">HN</text>
<text x="488.8" y="433.8" font-size="7.1" fill="#e8303f" text-anchor="start" class="lb">OH</text>
<text x="471.1" y="495.0" font-size="7.1" fill="#e8303f" text-anchor="start" class="lb">OH</text>
<text x="488.8" y="454.2" font-size="7.1" fill="#e8303f" text-anchor="start" class="lb">O</text>
<text x="488.8" y="484.8" font-size="7.1" fill="#e8303f" text-anchor="start" class="lb">O</text>
<text x="524.1" y="484.8" font-size="7.1" fill="#e8303f" text-anchor="start" class="lb">O</text>
<path d="M573.3 467.4L582.1 462.3 M582.1 462.3L590.9 467.4 M590.9 467.4L590.9 477.6 M590.9 477.6L582.1 482.7 M582.1 482.7L573.3 477.6 M573.3 477.6L573.3 467.4 M590.9 467.4L599.8 462.3 M599.8 462.3L608.6 467.4 M608.6 467.4L608.6 477.6 M608.6 477.6L599.8 482.7 M599.8 482.7L590.9 477.6 M608.6 467.4L617.4 462.3 M617.4 462.3L626.3 467.4 M626.3 467.4L626.3 477.6 M626.3 477.6L617.4 482.7 M617.4 482.7L608.6 477.6 M574.9 476.1L574.9 468.9 M600.3 464.5L606.5 468.0 M606.5 477.0L600.3 480.5 M592.6 476.1L592.6 468.9 M573.3 477.6L564.4 482.7 M564.4 482.7L555.6 477.6 M582.1 462.3L582.1 452.1 M583.7 462.3L583.7 452.1 M582.1 482.7L582.1 492.9 M580.5 482.7L580.5 492.9 M599.8 462.3L599.8 452.1 M599.8 482.7L599.8 492.9 M617.4 462.3L617.4 452.1 M619.1 462.3L619.1 452.1 M626.3 477.6L635.1 482.7 M625.5 479.0L634.3 484.1 M626.3 467.4L635.1 462.3 M627.1 468.8L635.9 463.7 M635.1 462.3L643.9 467.4 M635.1 462.3L635.1 452.1 M635.1 452.1L643.9 447.0 M635.9 453.5L644.8 448.4 M643.9 447.0L652.8 452.1 M652.8 452.1L652.8 462.3 M643.9 447.0L643.9 436.8 M643.9 436.8L652.8 431.7 M644.8 438.2L653.6 433.1" stroke="#383838" stroke-width="1.0" fill="none" stroke-linecap="round"/>
<text x="561.7" y="485.3" font-size="7.1" fill="#e8303f" text-anchor="start" class="lb">O</text>
<text x="579.3" y="454.7" font-size="7.1" fill="#e8303f" text-anchor="start" class="lb">O</text>
<text x="579.3" y="495.5" font-size="7.1" fill="#e8303f" text-anchor="start" class="lb">O</text>
<text x="597.0" y="454.7" font-size="7.1" fill="#e8303f" text-anchor="start" class="lb">OH</text>
<text x="597.0" y="495.5" font-size="7.1" fill="#e8303f" text-anchor="start" class="lb">OH</text>
<text x="614.7" y="454.7" font-size="7.1" fill="#e8303f" text-anchor="start" class="lb">O</text>
<text x="614.7" y="485.3" font-size="7.1" fill="#e8303f" text-anchor="start" class="lb">O</text>
<text x="632.3" y="485.3" font-size="7.1" fill="#e8303f" text-anchor="start" class="lb">O</text>
<text x="650.0" y="454.7" font-size="7.1" fill="#e8303f" text-anchor="start" class="lb">O</text>
<text x="650.0" y="434.3" font-size="7.1" fill="#e8303f" text-anchor="start" class="lb">O</text>
<path d="M62.7 570.5L71.5 565.4 M71.5 565.4L80.3 570.5 M80.3 570.5L80.3 580.7 M80.3 580.7L71.5 585.8 M71.5 585.8L62.7 580.7 M62.7 580.7L62.7 570.5 M80.3 570.5L89.2 565.4 M89.2 565.4L98.0 570.5 M98.0 570.5L98.0 580.7 M98.0 580.7L89.2 585.8 M89.2 585.8L80.3 580.7 M98.0 570.5L106.8 565.4 M106.8 565.4L115.7 570.5 M115.7 570.5L115.7 580.7 M115.7 580.7L106.8 585.8 M106.8 585.8L98.0 580.7 M115.7 570.5L124.5 565.4 M124.5 565.4L133.3 570.5 M133.3 570.5L133.3 580.7 M133.3 580.7L124.5 585.8 M124.5 585.8L115.7 580.7 M64.3 579.2L64.3 572.0 M89.7 567.6L95.9 571.1 M95.9 580.1L89.7 583.6 M82.0 579.2L82.0 572.0 M125.0 567.6L131.2 571.1 M62.7 580.7L53.8 585.8 M53.8 585.8L45.0 580.7 M71.5 565.4L71.5 555.2 M73.1 565.4L73.1 555.2 M71.5 585.8L71.5 596.0 M69.9 585.8L69.9 596.0 M89.2 565.4L89.2 555.2 M89.2 585.8L89.2 596.0 M106.8 565.4L106.8 555.2 M108.5 565.4L108.5 555.2 M124.5 565.4L124.5 555.2 M124.5 585.8L132.7 589.9 M133.3 580.7L132.7 589.9 M133.3 580.7L142.2 585.8 M142.2 585.8L142.2 596.0" stroke="#383838" stroke-width="1.0" fill="none" stroke-linecap="round"/>
<text x="51.1" y="588.4" font-size="7.1" fill="#e8303f" text-anchor="start" class="lb">O</text>
<text x="68.7" y="557.8" font-size="7.1" fill="#e8303f" text-anchor="start" class="lb">O</text>
<text x="68.7" y="598.6" font-size="7.1" fill="#e8303f" text-anchor="start" class="lb">O</text>
<text x="86.4" y="557.8" font-size="7.1" fill="#e8303f" text-anchor="start" class="lb">OH</text>
<text x="86.4" y="598.6" font-size="7.1" fill="#e8303f" text-anchor="start" class="lb">OH</text>
<text x="104.1" y="557.8" font-size="7.1" fill="#e8303f" text-anchor="start" class="lb">O</text>
<text x="104.1" y="588.4" font-size="7.1" fill="#e8303f" text-anchor="start" class="lb">O</text>
<text x="130.0" y="592.4" font-size="7.1" fill="#e8303f" text-anchor="start" class="lb">O</text>
<text x="139.4" y="588.4" font-size="7.1" fill="#e8303f" text-anchor="start" class="lb">O</text>
<path d="M195.6 570.5L204.4 565.4 M204.4 565.4L213.2 570.5 M213.2 570.5L213.2 580.7 M213.2 580.7L204.4 585.8 M204.4 585.8L195.6 580.7 M195.6 580.7L195.6 570.5 M213.2 570.5L222.1 565.4 M222.1 565.4L230.9 570.5 M230.9 570.5L230.9 580.7 M230.9 580.7L222.1 585.8 M222.1 585.8L213.2 580.7 M230.9 570.5L239.7 565.4 M239.7 565.4L248.6 570.5 M248.6 570.5L248.6 580.7 M248.6 580.7L239.7 585.8 M239.7 585.8L230.9 580.7 M248.6 570.5L257.4 565.4 M257.4 565.4L266.2 570.5 M266.2 570.5L266.2 580.7 M266.2 580.7L257.4 585.8 M257.4 585.8L248.6 580.7 M197.2 579.2L197.2 572.0 M222.6 567.6L228.8 571.1 M228.8 580.1L222.6 583.6 M214.9 579.2L214.9 572.0 M264.1 580.1L257.9 583.6 M195.6 580.7L186.7 585.8 M186.7 585.8L177.9 580.7 M204.4 565.4L204.4 555.2 M206.0 565.4L206.0 555.2 M204.4 585.8L204.4 596.0 M202.8 585.8L202.8 596.0 M222.1 565.4L222.1 555.2 M222.1 585.8L222.1 596.0 M239.7 565.4L239.7 555.2 M241.4 565.4L241.4 555.2 M257.4 565.4L257.4 555.2 M257.4 565.4L265.6 561.3 M266.2 570.5L265.6 561.3 M266.2 580.7L275.1 585.8 M275.1 585.8L275.1 596.0" stroke="#383838" stroke-width="1.0" fill="none" stroke-linecap="round"/>
<text x="184.0" y="588.4" font-size="7.1" fill="#e8303f" text-anchor="start" class="lb">O</text>
<text x="201.6" y="557.8" font-size="7.1" fill="#e8303f" text-anchor="start" class="lb">O</text>
<text x="201.6" y="598.6" font-size="7.1" fill="#e8303f" text-anchor="start" class="lb">O</text>
<text x="219.3" y="557.8" font-size="7.1" fill="#e8303f" text-anchor="start" class="lb">OH</text>
<text x="219.3" y="598.6" font-size="7.1" fill="#e8303f" text-anchor="start" class="lb">OH</text>
<text x="237.0" y="557.8" font-size="7.1" fill="#e8303f" text-anchor="start" class="lb">O</text>
<text x="237.0" y="588.4" font-size="7.1" fill="#e8303f" text-anchor="start" class="lb">O</text>
<text x="262.9" y="563.9" font-size="7.1" fill="#e8303f" text-anchor="start" class="lb">O</text>
<text x="272.3" y="588.4" font-size="7.1" fill="#e8303f" text-anchor="start" class="lb">O</text>
<path d="M323.2 570.5L332.0 565.4 M332.0 565.4L340.8 570.5 M340.8 570.5L340.8 580.7 M340.8 580.7L332.0 585.8 M332.0 585.8L323.2 580.7 M323.2 580.7L323.2 570.5 M340.8 570.5L349.7 565.4 M349.7 565.4L358.5 570.5 M358.5 570.5L358.5 580.7 M358.5 580.7L349.7 585.8 M349.7 585.8L340.8 580.7 M358.5 570.5L367.3 565.4 M367.3 565.4L376.2 570.5 M376.2 570.5L376.2 580.7 M376.2 580.7L367.3 585.8 M367.3 585.8L358.5 580.7 M376.2 570.5L385.0 565.4 M385.0 565.4L393.8 570.5 M393.8 570.5L393.8 580.7 M393.8 580.7L385.0 585.8 M385.0 585.8L376.2 580.7 M324.8 579.2L324.8 572.0 M350.2 567.6L356.4 571.1 M356.4 580.1L350.2 583.6 M342.5 579.2L342.5 572.0 M391.7 580.1L385.5 583.6 M323.2 580.7L314.3 585.8 M314.3 585.8L305.5 580.7 M332.0 565.4L332.0 555.2 M333.6 565.4L333.6 555.2 M332.0 585.8L332.0 596.0 M330.4 585.8L330.4 596.0 M349.7 565.4L349.7 555.2 M349.7 585.8L349.7 596.0 M367.3 565.4L367.3 555.2 M369.0 565.4L369.0 555.2 M385.0 565.4L376.2 560.3 M385.0 565.4L390.1 556.6 M393.8 570.5L402.7 565.4 M393.8 580.7L402.7 585.8 M402.7 585.8L402.7 596.0" stroke="#383838" stroke-width="1.0" fill="none" stroke-linecap="round"/>
<text x="311.6" y="588.4" font-size="7.1" fill="#e8303f" text-anchor="start" class="lb">O</text>
<text x="329.2" y="557.8" font-size="7.1" fill="#e8303f" text-anchor="start" class="lb">O</text>
<text x="329.2" y="598.6" font-size="7.1" fill="#e8303f" text-anchor="start" class="lb">O</text>
<text x="346.9" y="557.8" font-size="7.1" fill="#e8303f" text-anchor="start" class="lb">OH</text>
<text x="346.9" y="598.6" font-size="7.1" fill="#e8303f" text-anchor="start" class="lb">OH</text>
<text x="364.6" y="557.8" font-size="7.1" fill="#e8303f" text-anchor="start" class="lb">O</text>
<text x="364.6" y="588.4" font-size="7.1" fill="#e8303f" text-anchor="start" class="lb">O</text>
<text x="378.9" y="562.9" font-size="7.1" fill="#e8303f" text-anchor="end" class="lb">HO</text>
<text x="399.9" y="568.0" font-size="7.1" fill="#e8303f" text-anchor="start" class="lb">OH</text>
<text x="399.9" y="588.4" font-size="7.1" fill="#e8303f" text-anchor="start" class="lb">O</text>
<path d="M448.1 570.5L456.9 565.4 M456.9 565.4L465.7 570.5 M465.7 570.5L465.7 580.7 M465.7 580.7L456.9 585.8 M456.9 585.8L448.1 580.7 M448.1 580.7L448.1 570.5 M465.7 570.5L474.6 565.4 M474.6 565.4L483.4 570.5 M483.4 570.5L483.4 580.7 M483.4 580.7L474.6 585.8 M474.6 585.8L465.7 580.7 M483.4 570.5L492.2 565.4 M492.2 565.4L501.1 570.5 M501.1 570.5L501.1 580.7 M501.1 580.7L492.2 585.8 M492.2 585.8L483.4 580.7 M501.1 570.5L509.9 565.4 M509.9 565.4L518.7 570.5 M518.7 570.5L518.7 580.7 M518.7 580.7L509.9 585.8 M509.9 585.8L501.1 580.7 M450.2 571.1L456.4 567.6 M464.1 572.0L464.1 579.2 M456.4 583.6L450.2 580.1 M481.8 572.0L481.8 579.2 M510.4 567.6L516.6 571.1 M516.6 580.1L510.4 583.6 M448.1 580.7L439.2 585.8 M439.2 585.8L430.4 580.7 M456.9 565.4L456.9 555.2 M456.9 585.8L456.9 596.0 M474.6 565.4L474.6 555.2 M476.2 565.4L476.2 555.2 M474.6 585.8L474.6 596.0 M472.9 585.8L472.9 596.0 M492.2 565.4L492.2 555.2 M493.9 565.4L493.9 555.2 M501.1 570.5L493.9 575.6 M501.1 580.7L493.9 575.6 M509.9 565.4L509.9 555.2 M518.7 580.7L527.6 585.8 M527.6 585.8L527.6 596.0" stroke="#383838" stroke-width="1.0" fill="none" stroke-linecap="round"/>
<text x="436.5" y="588.4" font-size="7.1" fill="#e8303f" text-anchor="start" class="lb">O</text>
<text x="454.1" y="557.8" font-size="7.1" fill="#e8303f" text-anchor="start" class="lb">OH</text>
<text x="454.1" y="598.6" font-size="7.1" fill="#e8303f" text-anchor="start" class="lb">OH</text>
<text x="471.8" y="557.8" font-size="7.1" fill="#e8303f" text-anchor="start" class="lb">O</text>
<text x="471.8" y="598.6" font-size="7.1" fill="#e8303f" text-anchor="start" class="lb">O</text>
<text x="489.5" y="557.8" font-size="7.1" fill="#e8303f" text-anchor="start" class="lb">O</text>
<text x="489.5" y="588.4" font-size="7.1" fill="#e8303f" text-anchor="start" class="lb">O</text>
<text x="491.1" y="578.2" font-size="7.1" fill="#e8303f" text-anchor="start" class="lb">O</text>
<text x="524.8" y="588.4" font-size="7.1" fill="#e8303f" text-anchor="start" class="lb">O</text>
<path d="M574.0 570.5L582.8 565.4 M582.8 565.4L591.6 570.5 M591.6 570.5L591.6 580.7 M591.6 580.7L582.8 585.8 M582.8 585.8L574.0 580.7 M574.0 580.7L574.0 570.5 M591.6 570.5L600.5 565.4 M600.5 565.4L609.3 570.5 M609.3 570.5L609.3 580.7 M609.3 580.7L600.5 585.8 M600.5 585.8L591.6 580.7 M609.3 570.5L618.1 565.4 M618.1 565.4L627.0 570.5 M627.0 570.5L627.0 580.7 M627.0 580.7L618.1 585.8 M618.1 585.8L609.3 580.7 M627.0 570.5L635.8 565.4 M635.8 565.4L644.6 570.5 M644.6 570.5L644.6 580.7 M644.6 580.7L635.8 585.8 M635.8 585.8L627.0 580.7 M576.1 571.1L582.3 567.6 M590.0 572.0L590.0 579.2 M582.3 583.6L576.1 580.1 M607.7 572.0L607.7 579.2 M636.3 567.6L642.5 571.1 M642.5 580.1L636.3 583.6 M574.0 580.7L565.1 585.8 M565.1 585.8L556.3 580.7 M582.8 565.4L582.8 555.2 M582.8 585.8L582.8 596.0 M600.5 565.4L600.5 555.2 M602.1 565.4L602.1 555.2 M600.5 585.8L600.5 596.0 M598.8 585.8L598.8 596.0 M618.1 565.4L618.1 555.2 M619.8 565.4L619.8 555.2 M627.0 580.7L627.6 589.9 M635.8 585.8L627.6 589.9 M635.8 565.4L635.8 555.2 M644.6 580.7L653.5 585.8 M653.5 585.8L653.5 596.0" stroke="#383838" stroke-width="1.0" fill="none" stroke-linecap="round"/>
<text x="562.4" y="588.4" font-size="7.1" fill="#e8303f" text-anchor="start" class="lb">O</text>
<text x="580.0" y="557.8" font-size="7.1" fill="#e8303f" text-anchor="start" class="lb">OH</text>
<text x="580.0" y="598.6" font-size="7.1" fill="#e8303f" text-anchor="start" class="lb">OH</text>
<text x="597.7" y="557.8" font-size="7.1" fill="#e8303f" text-anchor="start" class="lb">O</text>
<text x="597.7" y="598.6" font-size="7.1" fill="#e8303f" text-anchor="start" class="lb">O</text>
<text x="615.4" y="557.8" font-size="7.1" fill="#e8303f" text-anchor="start" class="lb">O</text>
<text x="615.4" y="588.4" font-size="7.1" fill="#e8303f" text-anchor="start" class="lb">O</text>
<text x="624.8" y="592.4" font-size="7.1" fill="#e8303f" text-anchor="start" class="lb">O</text>
<text x="650.7" y="588.4" font-size="7.1" fill="#e8303f" text-anchor="start" class="lb">O</text>
<path d="M25.8 676.9L34.6 671.8 M34.6 671.8L43.4 676.9 M43.4 676.9L43.4 687.1 M43.4 687.1L34.6 692.2 M34.6 692.2L25.8 687.1 M25.8 687.1L25.8 676.9 M43.4 676.9L52.3 671.8 M52.3 671.8L61.1 676.9 M61.1 676.9L61.1 687.1 M61.1 687.1L52.3 692.2 M52.3 692.2L43.4 687.1 M61.1 676.9L69.9 671.8 M69.9 671.8L78.8 676.9 M78.8 676.9L78.8 687.1 M78.8 687.1L69.9 692.2 M69.9 692.2L61.1 687.1 M78.8 676.9L87.6 671.8 M87.6 671.8L96.4 676.9 M96.4 676.9L96.4 687.1 M96.4 687.1L87.6 692.2 M87.6 692.2L78.8 687.1 M27.9 677.5L34.1 674.0 M41.8 678.4L41.8 685.6 M34.1 690.0L27.9 686.5 M59.5 678.4L59.5 685.6 M94.3 686.5L88.1 690.0 M25.8 687.1L16.9 692.2 M16.9 692.2L8.1 687.1 M34.6 671.8L34.6 661.6 M34.6 692.2L34.6 702.4 M52.3 671.8L52.3 661.6 M53.9 671.8L53.9 661.6 M52.3 692.2L52.3 702.4 M50.6 692.2L50.6 702.4 M69.9 671.8L69.9 661.6 M71.6 671.8L71.6 661.6 M87.6 671.8L87.6 661.6 M87.6 671.8L95.8 667.7 M96.4 676.9L95.8 667.7 M96.4 687.1L105.3 692.2 M105.3 692.2L105.3 702.4" stroke="#383838" stroke-width="1.0" fill="none" stroke-linecap="round"/>
<text x="14.2" y="694.8" font-size="7.1" fill="#e8303f" text-anchor="start" class="lb">O</text>
<text x="31.8" y="664.2" font-size="7.1" fill="#e8303f" text-anchor="start" class="lb">OH</text>
<text x="31.8" y="705.0" font-size="7.1" fill="#e8303f" text-anchor="start" class="lb">OH</text>
<text x="49.5" y="664.2" font-size="7.1" fill="#e8303f" text-anchor="start" class="lb">O</text>
<text x="49.5" y="705.0" font-size="7.1" fill="#e8303f" text-anchor="start" class="lb">O</text>
<text x="67.2" y="664.2" font-size="7.1" fill="#e8303f" text-anchor="start" class="lb">O</text>
<text x="67.2" y="694.8" font-size="7.1" fill="#e8303f" text-anchor="start" class="lb">O</text>
<text x="93.1" y="670.3" font-size="7.1" fill="#e8303f" text-anchor="start" class="lb">O</text>
<text x="102.5" y="694.8" font-size="7.1" fill="#e8303f" text-anchor="start" class="lb">O</text>
<path d="M137.4 678.9L146.2 673.8 M146.2 673.8L155.0 678.9 M155.0 678.9L155.0 689.1 M155.0 689.1L146.2 694.2 M146.2 694.2L137.4 689.1 M137.4 689.1L137.4 678.9 M155.0 678.9L163.9 673.8 M163.9 673.8L172.7 678.9 M172.7 678.9L172.7 689.1 M172.7 689.1L163.9 694.2 M163.9 694.2L155.0 689.1 M172.7 678.9L181.5 673.8 M181.5 673.8L190.4 678.9 M190.4 678.9L190.4 689.1 M190.4 689.1L181.5 694.2 M181.5 694.2L172.7 689.1 M190.4 678.9L199.2 673.8 M199.2 673.8L208.0 678.9 M208.0 678.9L208.0 689.1 M208.0 689.1L199.2 694.2 M199.2 694.2L190.4 689.1 M139.5 679.5L145.7 676.0 M153.4 680.4L153.4 687.6 M145.7 692.0L139.5 688.5 M171.1 680.4L171.1 687.6 M205.9 688.5L199.7 692.0 M137.4 689.1L128.5 694.2 M128.5 694.2L119.7 689.1 M146.2 673.8L146.2 663.6 M146.2 694.2L146.2 704.4 M163.9 673.8L163.9 663.6 M165.5 673.8L165.5 663.6 M163.9 694.2L163.9 704.4 M162.2 694.2L162.2 704.4 M181.5 673.8L181.5 663.6 M183.2 673.8L183.2 663.6 M199.2 673.8L190.4 668.7 M199.2 673.8L204.3 665.0 M208.0 678.9L216.9 673.8 M208.0 689.1L216.9 694.2 M216.9 694.2L216.9 704.4" stroke="#383838" stroke-width="1.0" fill="none" stroke-linecap="round"/>
<text x="125.8" y="696.8" font-size="7.1" fill="#e8303f" text-anchor="start" class="lb">O</text>
<text x="143.4" y="666.2" font-size="7.1" fill="#e8303f" text-anchor="start" class="lb">OH</text>
<text x="143.4" y="707.0" font-size="7.1" fill="#e8303f" text-anchor="start" class="lb">OH</text>
<text x="161.1" y="666.2" font-size="7.1" fill="#e8303f" text-anchor="start" class="lb">O</text>
<text x="161.1" y="707.0" font-size="7.1" fill="#e8303f" text-anchor="start" class="lb">O</text>
<text x="178.8" y="666.2" font-size="7.1" fill="#e8303f" text-anchor="start" class="lb">O</text>
<text x="178.8" y="696.8" font-size="7.1" fill="#e8303f" text-anchor="start" class="lb">O</text>
<text x="193.1" y="671.3" font-size="7.1" fill="#e8303f" text-anchor="end" class="lb">HO</text>
<text x="214.1" y="676.4" font-size="7.1" fill="#e8303f" text-anchor="start" class="lb">OH</text>
<text x="214.1" y="696.8" font-size="7.1" fill="#e8303f" text-anchor="start" class="lb">O</text>
<path d="M249.3 677.9L258.1 672.8 M258.1 672.8L266.9 677.9 M266.9 677.9L266.9 688.1 M266.9 688.1L258.1 693.2 M258.1 693.2L249.3 688.1 M249.3 688.1L249.3 677.9 M266.9 677.9L275.8 672.8 M275.8 672.8L284.6 677.9 M284.6 677.9L284.6 688.1 M284.6 688.1L275.8 693.2 M275.8 693.2L266.9 688.1 M284.6 677.9L293.4 672.8 M293.4 672.8L302.3 677.9 M302.3 677.9L302.3 688.1 M302.3 688.1L293.4 693.2 M293.4 693.2L284.6 688.1 M302.3 677.9L311.1 672.8 M311.1 672.8L319.9 677.9 M319.9 677.9L319.9 688.1 M319.9 688.1L311.1 693.2 M311.1 693.2L302.3 688.1 M251.4 678.5L257.6 675.0 M265.3 679.4L265.3 686.6 M257.6 691.0L251.4 687.5 M283.0 679.4L283.0 686.6 M311.6 675.0L317.8 678.5 M249.3 688.1L240.4 693.2 M240.4 693.2L231.6 688.1 M258.1 672.8L258.1 662.6 M258.1 693.2L258.1 703.4 M275.8 672.8L275.8 662.6 M277.4 672.8L277.4 662.6 M275.8 693.2L275.8 703.4 M274.1 693.2L274.1 703.4 M293.4 672.8L293.4 662.6 M295.1 672.8L295.1 662.6 M311.1 672.8L311.1 662.6 M311.1 693.2L319.3 697.3 M319.9 688.1L319.3 697.3 M319.9 688.1L328.8 693.2 M328.8 693.2L328.8 703.4" stroke="#383838" stroke-width="1.0" fill="none" stroke-linecap="round"/>
<text x="237.7" y="695.8" font-size="7.1" fill="#e8303f" text-anchor="start" class="lb">O</text>
<text x="255.3" y="665.2" font-size="7.1" fill="#e8303f" text-anchor="start" class="lb">OH</text>
<text x="255.3" y="706.0" font-size="7.1" fill="#e8303f" text-anchor="start" class="lb">OH</text>
<text x="273.0" y="665.2" font-size="7.1" fill="#e8303f" text-anchor="start" class="lb">O</text>
<text x="273.0" y="706.0" font-size="7.1" fill="#e8303f" text-anchor="start" class="lb">O</text>
<text x="290.7" y="665.2" font-size="7.1" fill="#e8303f" text-anchor="start" class="lb">O</text>
<text x="290.7" y="695.8" font-size="7.1" fill="#e8303f" text-anchor="start" class="lb">O</text>
<text x="316.6" y="699.8" font-size="7.1" fill="#e8303f" text-anchor="start" class="lb">O</text>
<text x="326.0" y="695.8" font-size="7.1" fill="#e8303f" text-anchor="start" class="lb">O</text>
<path d="M365.8 682.5L374.6 677.4 M374.6 677.4L383.4 682.5 M383.4 682.5L383.4 692.7 M383.4 692.7L374.6 697.8 M374.6 697.8L365.8 692.7 M365.8 692.7L365.8 682.5 M383.4 682.5L392.3 677.4 M392.3 677.4L401.1 682.5 M401.1 682.5L401.1 692.7 M401.1 692.7L392.3 697.8 M392.3 697.8L383.4 692.7 M401.1 682.5L409.9 677.4 M409.9 677.4L418.8 682.5 M418.8 682.5L418.8 692.7 M418.8 692.7L409.9 697.8 M409.9 697.8L401.1 692.7 M367.9 683.1L374.1 679.6 M381.8 684.0L381.8 691.2 M374.1 695.6L367.9 692.1 M399.5 684.0L399.5 691.2 M365.8 692.7L356.9 697.8 M356.9 697.8L348.1 692.7 M374.6 677.4L374.6 667.2 M374.6 697.8L374.6 708.0 M392.3 677.4L392.3 667.2 M393.9 677.4L393.9 667.2 M392.3 697.8L392.3 708.0 M390.6 697.8L390.6 708.0 M409.9 677.4L409.9 667.2 M411.6 677.4L411.6 667.2 M418.8 692.7L427.6 697.8 M418.0 694.1L426.8 699.2 M418.8 682.5L427.6 677.4 M419.6 683.9L428.4 678.8 M427.6 677.4L436.4 682.5 M427.6 677.4L427.6 667.2 M427.6 667.2L436.4 662.1 M428.4 668.6L437.3 663.5 M436.4 662.1L445.3 667.2 M445.3 667.2L445.3 677.4 M436.4 662.1L436.4 651.9 M436.4 651.9L445.3 646.8 M437.3 653.3L446.1 648.2" stroke="#383838" stroke-width="1.0" fill="none" stroke-linecap="round"/>
<text x="354.2" y="700.4" font-size="7.1" fill="#e8303f" text-anchor="start" class="lb">O</text>
<text x="371.8" y="669.8" font-size="7.1" fill="#e8303f" text-anchor="start" class="lb">OH</text>
<text x="371.8" y="710.6" font-size="7.1" fill="#e8303f" text-anchor="start" class="lb">OH</text>
<text x="389.5" y="669.8" font-size="7.1" fill="#e8303f" text-anchor="start" class="lb">O</text>
<text x="389.5" y="710.6" font-size="7.1" fill="#e8303f" text-anchor="start" class="lb">O</text>
<text x="407.2" y="669.8" font-size="7.1" fill="#e8303f" text-anchor="start" class="lb">O</text>
<text x="407.2" y="700.4" font-size="7.1" fill="#e8303f" text-anchor="start" class="lb">O</text>
<text x="424.8" y="700.4" font-size="7.1" fill="#e8303f" text-anchor="start" class="lb">O</text>
<text x="442.5" y="669.8" font-size="7.1" fill="#e8303f" text-anchor="start" class="lb">O</text>
<text x="442.5" y="649.4" font-size="7.1" fill="#e8303f" text-anchor="start" class="lb">O</text>
<path d="M484.1 676.4L492.9 671.3 M492.9 671.3L501.7 676.4 M501.7 676.4L501.7 686.6 M501.7 686.6L492.9 691.7 M492.9 691.7L484.1 686.6 M484.1 686.6L484.1 676.4 M501.7 676.4L510.6 671.3 M510.6 671.3L519.4 676.4 M519.4 676.4L519.4 686.6 M519.4 686.6L510.6 691.7 M510.6 691.7L501.7 686.6 M519.4 676.4L528.2 671.3 M528.2 671.3L537.1 676.4 M537.1 676.4L537.1 686.6 M537.1 686.6L528.2 691.7 M528.2 691.7L519.4 686.6 M486.2 677.0L492.4 673.5 M500.1 677.9L500.1 685.1 M492.4 689.5L486.2 686.0 M517.8 677.9L517.8 685.1 M484.1 686.6L475.2 691.7 M475.2 691.7L466.4 686.6 M492.9 671.3L492.9 661.1 M492.9 691.7L492.9 701.9 M510.6 671.3L510.6 661.1 M512.2 671.3L512.2 661.1 M510.6 691.7L510.6 701.9 M508.9 691.7L508.9 701.9 M528.2 671.3L528.2 661.1 M529.9 671.3L529.9 661.1 M537.1 676.4L545.9 671.3 M537.9 677.8L546.7 672.7 M545.9 671.3L554.7 676.4 M545.9 671.3L545.9 661.1 M545.9 661.1L554.7 656.0 M546.7 662.5L555.6 657.4 M537.1 686.6L545.9 691.7 M536.3 688.0L545.1 693.1 M545.9 691.7L545.9 701.9 M545.9 701.9L537.1 707.0 M545.1 700.5L536.3 705.6 M545.9 701.9L554.7 707.0 M554.7 707.0L554.7 717.2" stroke="#383838" stroke-width="1.0" fill="none" stroke-linecap="round"/>
<text x="472.5" y="694.3" font-size="7.1" fill="#e8303f" text-anchor="start" class="lb">O</text>
<text x="490.1" y="663.7" font-size="7.1" fill="#e8303f" text-anchor="start" class="lb">OH</text>
<text x="490.1" y="704.5" font-size="7.1" fill="#e8303f" text-anchor="start" class="lb">OH</text>
<text x="507.8" y="663.7" font-size="7.1" fill="#e8303f" text-anchor="start" class="lb">O</text>
<text x="507.8" y="704.5" font-size="7.1" fill="#e8303f" text-anchor="start" class="lb">O</text>
<text x="525.5" y="663.7" font-size="7.1" fill="#e8303f" text-anchor="start" class="lb">O</text>
<text x="525.5" y="694.3" font-size="7.1" fill="#e8303f" text-anchor="start" class="lb">O</text>
<text x="552.0" y="658.6" font-size="7.1" fill="#e8303f" text-anchor="start" class="lb">O</text>
<text x="534.3" y="709.6" font-size="7.1" fill="#e8303f" text-anchor="start" class="lb">O</text>
<text x="552.0" y="709.6" font-size="7.1" fill="#e8303f" text-anchor="start" class="lb">O</text>
<path d="M599.6 679.5L608.4 674.4 M608.4 674.4L617.2 679.5 M617.2 679.5L617.2 689.7 M617.2 689.7L608.4 694.8 M608.4 694.8L599.6 689.7 M599.6 689.7L599.6 679.5 M617.2 679.5L626.1 674.4 M626.1 674.4L634.9 679.5 M634.9 679.5L634.9 689.7 M634.9 689.7L626.1 694.8 M626.1 694.8L617.2 689.7 M634.9 679.5L643.7 674.4 M643.7 674.4L652.6 679.5 M652.6 679.5L652.6 689.7 M652.6 689.7L643.7 694.8 M643.7 694.8L634.9 689.7 M652.6 679.5L661.4 674.4 M661.4 674.4L670.2 679.5 M670.2 679.5L670.2 689.7 M670.2 689.7L661.4 694.8 M661.4 694.8L652.6 689.7 M601.7 680.1L607.9 676.6 M615.6 681.0L615.6 688.2 M607.9 692.6L601.7 689.1 M633.3 681.0L633.3 688.2 M654.7 680.1L660.9 676.6 M660.9 692.6L654.7 689.1 M599.6 689.7L590.7 694.8 M590.7 694.8L581.9 689.7 M608.4 674.4L608.4 664.2 M608.4 694.8L608.4 705.0 M626.1 674.4L626.1 664.2 M627.7 674.4L627.7 664.2 M626.1 694.8L626.1 705.0 M624.4 694.8L624.4 705.0 M643.7 674.4L643.7 664.2 M645.4 674.4L645.4 664.2 M661.4 674.4L661.4 664.2 M670.2 679.5L677.4 684.6 M670.2 689.7L677.4 684.6 M670.2 689.7L679.1 694.8 M679.1 694.8L679.1 705.0" stroke="#383838" stroke-width="1.0" fill="none" stroke-linecap="round"/>
<text x="588.0" y="697.4" font-size="7.1" fill="#e8303f" text-anchor="start" class="lb">O</text>
<text x="605.6" y="666.8" font-size="7.1" fill="#e8303f" text-anchor="start" class="lb">OH</text>
<text x="605.6" y="707.6" font-size="7.1" fill="#e8303f" text-anchor="start" class="lb">OH</text>
<text x="623.3" y="666.8" font-size="7.1" fill="#e8303f" text-anchor="start" class="lb">O</text>
<text x="623.3" y="707.6" font-size="7.1" fill="#e8303f" text-anchor="start" class="lb">O</text>
<text x="641.0" y="666.8" font-size="7.1" fill="#e8303f" text-anchor="start" class="lb">O</text>
<text x="641.0" y="697.4" font-size="7.1" fill="#e8303f" text-anchor="start" class="lb">O</text>
<text x="674.6" y="687.2" font-size="7.1" fill="#e8303f" text-anchor="start" class="lb">O</text>
<text x="676.3" y="697.4" font-size="7.1" fill="#e8303f" text-anchor="start" class="lb">O</text>
</g>
<g class="molA">
<path d="M85.8 58.4L93.4 54.1 M93.4 54.1L101.0 58.4 M101.0 58.4L101.0 67.2 M101.0 67.2L93.4 71.5 M93.4 71.5L85.8 67.2 M85.8 67.2L85.8 58.4 M101.0 58.4L108.5 54.1 M108.5 54.1L116.1 58.4 M116.1 58.4L116.1 67.2 M116.1 67.2L108.5 71.5 M108.5 71.5L101.0 67.2 M116.1 58.4L123.6 54.1 M123.6 54.1L131.2 58.4 M131.2 58.4L131.2 67.2 M131.2 67.2L123.6 71.5 M123.6 71.5L116.1 67.2 M131.2 58.4L138.7 54.1 M138.7 54.1L146.3 58.4 M146.3 58.4L146.3 67.2 M146.3 67.2L138.7 71.5 M138.7 71.5L131.2 67.2 M87.2 65.9L87.2 59.7 M108.9 55.9L114.2 59.0 M114.2 66.6L108.9 69.7 M102.3 65.9L102.3 59.7 M133.0 59.0L138.3 55.9 M144.9 59.7L144.9 65.9 M138.3 69.7L133.0 66.6 M85.8 67.2L78.3 71.5 M78.3 71.5L70.7 67.2 M93.4 54.1L93.4 45.4 M94.8 54.1L94.8 45.4 M93.4 71.5L93.4 80.2 M92.0 71.5L92.0 80.2 M108.5 54.1L108.5 45.4 M108.5 71.5L108.5 80.2 M123.6 54.1L123.6 45.4 M125.0 54.1L125.0 45.4 M138.7 54.1L138.7 45.4 M146.3 67.2L153.8 71.5 M153.8 71.5L153.8 80.2" stroke="#383838" stroke-width="1.0" fill="none" stroke-linecap="round"/>
<text x="75.9" y="73.7" font-size="6.1" fill="#e8303f" text-anchor="start" class="lb">O</text>
<text x="91.0" y="47.6" font-size="6.1" fill="#e8303f" text-anchor="start" class="lb">O</text>
<text x="91.0" y="82.4" font-size="6.1" fill="#e8303f" text-anchor="start" class="lb">O</text>
<text x="106.1" y="47.6" font-size="6.1" fill="#e8303f" text-anchor="start" class="lb">OH</text>
<text x="106.1" y="82.4" font-size="6.1" fill="#e8303f" text-anchor="start" class="lb">OH</text>
<text x="121.2" y="47.6" font-size="6.1" fill="#e8303f" text-anchor="start" class="lb">O</text>
<text x="121.2" y="73.7" font-size="6.1" fill="#e8303f" text-anchor="start" class="lb">O</text>
<text x="151.4" y="73.7" font-size="6.1" fill="#e8303f" text-anchor="start" class="lb">O</text>
<path d="M86.0 119.9L93.6 115.6 M93.6 115.6L101.2 119.9 M101.2 119.9L101.2 128.7 M101.2 128.7L93.6 133.0 M93.6 133.0L86.0 128.7 M86.0 128.7L86.0 119.9 M101.2 119.9L108.7 115.6 M108.7 115.6L116.3 119.9 M116.3 119.9L116.3 128.7 M116.3 128.7L108.7 133.0 M108.7 133.0L101.2 128.7 M116.3 119.9L123.8 115.6 M123.8 115.6L131.4 119.9 M131.4 119.9L131.4 128.7 M131.4 128.7L123.8 133.0 M123.8 133.0L116.3 128.7 M131.4 119.9L138.9 115.6 M138.9 115.6L146.5 119.9 M146.5 119.9L146.5 128.7 M146.5 128.7L138.9 133.0 M138.9 133.0L131.4 128.7 M87.9 120.5L93.2 117.4 M99.8 121.2L99.8 127.4 M93.2 131.2L87.9 128.1 M114.9 121.2L114.9 127.4 M133.2 120.5L138.5 117.4 M145.1 121.2L145.1 127.4 M138.5 131.2L133.2 128.1 M86.0 128.7L78.5 133.0 M78.5 133.0L70.9 128.7 M93.6 115.6L93.6 106.9 M93.6 133.0L93.6 141.7 M108.7 115.6L108.7 106.9 M110.1 115.6L110.1 106.9 M108.7 133.0L108.7 141.7 M107.3 133.0L107.3 141.7 M123.8 115.6L123.8 106.9 M125.2 115.6L125.2 106.9 M138.9 115.6L138.9 106.9 M146.5 128.7L154.0 133.0 M154.0 133.0L154.0 141.7" stroke="#383838" stroke-width="1.0" fill="none" stroke-linecap="round"/>
<text x="76.1" y="135.2" font-size="6.1" fill="#e8303f" text-anchor="start" class="lb">O</text>
<text x="91.2" y="109.1" font-size="6.1" fill="#e8303f" text-anchor="start" class="lb">OH</text>
<text x="91.2" y="143.9" font-size="6.1" fill="#e8303f" text-anchor="start" class="lb">OH</text>
<text x="106.3" y="109.1" font-size="6.1" fill="#e8303f" text-anchor="start" class="lb">O</text>
<text x="106.3" y="143.9" font-size="6.1" fill="#e8303f" text-anchor="start" class="lb">O</text>
<text x="121.4" y="109.1" font-size="6.1" fill="#e8303f" text-anchor="start" class="lb">O</text>
<text x="121.4" y="135.2" font-size="6.1" fill="#e8303f" text-anchor="start" class="lb">O</text>
<text x="151.6" y="135.2" font-size="6.1" fill="#e8303f" text-anchor="start" class="lb">O</text>
</g>
<g class="molCD">
<path d="M26.8 1006.8L34.2 1002.5 M34.2 1002.5L41.6 1006.8 M41.6 1006.8L41.6 1015.2 M41.6 1015.2L34.2 1019.5 M34.2 1019.5L26.8 1015.2 M26.8 1015.2L26.8 1006.8 M41.6 1006.8L48.9 1002.5 M48.9 1002.5L56.3 1006.8 M56.3 1006.8L56.3 1015.2 M56.3 1015.2L48.9 1019.5 M48.9 1019.5L41.6 1015.2 M56.3 1006.8L63.6 1002.5 M63.6 1002.5L71.0 1006.8 M71.0 1006.8L71.0 1015.2 M71.0 1015.2L63.6 1019.5 M63.6 1019.5L56.3 1015.2 M71.0 1006.8L78.4 1002.5 M78.4 1002.5L85.7 1006.8 M85.7 1006.8L85.7 1015.2 M85.7 1015.2L78.4 1019.5 M78.4 1019.5L71.0 1015.2 M28.2 1014.0L28.2 1008.0 M49.3 1004.3L54.5 1007.3 M54.5 1014.7L49.3 1017.7 M42.9 1014.0L42.9 1008.0 M72.8 1007.3L77.9 1004.3 M84.4 1008.0L84.4 1014.0 M77.9 1017.7L72.8 1014.7 M26.8 1015.2L19.5 1019.5 M19.5 1019.5L12.1 1015.2 M34.2 1002.5L34.2 994.0 M35.6 1002.5L35.6 994.0 M34.2 1019.5L34.2 1028.0 M32.8 1019.5L32.8 1028.0 M48.9 1002.5L48.9 994.0 M48.9 1019.5L48.9 1028.0 M63.6 1002.5L63.6 994.0 M65.0 1002.5L65.0 994.0 M78.4 1002.5L78.4 994.0 M85.7 1015.2L93.1 1019.5 M93.1 1019.5L93.1 1028.0" stroke="#383838" stroke-width="1.0" fill="none" stroke-linecap="round"/>
<text x="17.2" y="1021.6" font-size="5.9" fill="#e8303f" text-anchor="start" class="lb">O</text>
<text x="31.9" y="996.1" font-size="5.9" fill="#e8303f" text-anchor="start" class="lb">O</text>
<text x="31.9" y="1030.1" font-size="5.9" fill="#e8303f" text-anchor="start" class="lb">O</text>
<text x="46.6" y="996.1" font-size="5.9" fill="#e8303f" text-anchor="start" class="lb">O<tspan dy="-2.4" font-size="4.2">-</tspan></text>
<text x="46.6" y="1030.1" font-size="5.9" fill="#e8303f" text-anchor="start" class="lb">O<tspan dy="-2.4" font-size="4.2">-</tspan></text>
<text x="61.3" y="996.1" font-size="5.9" fill="#e8303f" text-anchor="start" class="lb">O</text>
<text x="61.3" y="1021.6" font-size="5.9" fill="#e8303f" text-anchor="start" class="lb">O</text>
<text x="90.8" y="1021.6" font-size="5.9" fill="#e8303f" text-anchor="start" class="lb">O</text>
<path d="M118.1 1006.8L125.5 1002.5 M125.5 1002.5L132.9 1006.8 M132.9 1006.8L132.9 1015.2 M132.9 1015.2L125.5 1019.5 M125.5 1019.5L118.1 1015.2 M118.1 1015.2L118.1 1006.8 M132.9 1006.8L140.2 1002.5 M140.2 1002.5L147.6 1006.8 M147.6 1006.8L147.6 1015.2 M147.6 1015.2L140.2 1019.5 M140.2 1019.5L132.9 1015.2 M147.6 1006.8L154.9 1002.5 M154.9 1002.5L162.3 1006.8 M162.3 1006.8L162.3 1015.2 M162.3 1015.2L154.9 1019.5 M154.9 1019.5L147.6 1015.2 M162.3 1006.8L169.7 1002.5 M169.7 1002.5L177.0 1006.8 M177.0 1006.8L177.0 1015.2 M177.0 1015.2L169.7 1019.5 M169.7 1019.5L162.3 1015.2 M119.5 1014.0L119.5 1008.0 M140.6 1004.3L145.8 1007.3 M145.8 1014.7L140.6 1017.7 M134.2 1014.0L134.2 1008.0 M164.1 1007.3L169.2 1004.3 M175.7 1008.0L175.7 1014.0 M169.2 1017.7L164.1 1014.7 M118.1 1015.2L110.8 1019.5 M110.8 1019.5L103.4 1015.2 M125.5 1002.5L125.5 994.0 M126.9 1002.5L126.9 994.0 M125.5 1019.5L125.5 1028.0 M124.1 1019.5L124.1 1028.0 M140.2 1002.5L140.2 994.0 M140.2 1019.5L140.2 1028.0 M154.9 1002.5L154.9 994.0 M156.3 1002.5L156.3 994.0 M169.7 1002.5L169.7 994.0 M177.0 1015.2L184.4 1019.5 M184.4 1019.5L184.4 1028.0" stroke="#383838" stroke-width="1.0" fill="none" stroke-linecap="round"/>
<text x="108.5" y="1021.6" font-size="5.9" fill="#e8303f" text-anchor="start" class="lb">O</text>
<text x="123.2" y="996.1" font-size="5.9" fill="#e8303f" text-anchor="start" class="lb">O</text>
<text x="123.2" y="1030.1" font-size="5.9" fill="#e8303f" text-anchor="start" class="lb">O</text>
<text x="137.9" y="996.1" font-size="5.9" fill="#e8303f" text-anchor="start" class="lb">OH</text>
<text x="137.9" y="1030.1" font-size="5.9" fill="#e8303f" text-anchor="start" class="lb">O<tspan dy="-2.4" font-size="4.2">-</tspan></text>
<text x="152.6" y="996.1" font-size="5.9" fill="#e8303f" text-anchor="start" class="lb">O</text>
<text x="152.6" y="1021.6" font-size="5.9" fill="#e8303f" text-anchor="start" class="lb">O</text>
<text x="182.1" y="1021.6" font-size="5.9" fill="#e8303f" text-anchor="start" class="lb">O</text>
<path d="M209.5 1006.8L216.9 1002.5 M216.9 1002.5L224.3 1006.8 M224.3 1006.8L224.3 1015.2 M224.3 1015.2L216.9 1019.5 M216.9 1019.5L209.5 1015.2 M209.5 1015.2L209.5 1006.8 M224.3 1006.8L231.6 1002.5 M231.6 1002.5L239.0 1006.8 M239.0 1006.8L239.0 1015.2 M239.0 1015.2L231.6 1019.5 M231.6 1019.5L224.3 1015.2 M239.0 1006.8L246.3 1002.5 M246.3 1002.5L253.7 1006.8 M253.7 1006.8L253.7 1015.2 M253.7 1015.2L246.3 1019.5 M246.3 1019.5L239.0 1015.2 M253.7 1006.8L261.1 1002.5 M261.1 1002.5L268.4 1006.8 M268.4 1006.8L268.4 1015.2 M268.4 1015.2L261.1 1019.5 M261.1 1019.5L253.7 1015.2 M210.9 1014.0L210.9 1008.0 M232.0 1004.3L237.2 1007.3 M237.2 1014.7L232.0 1017.7 M225.6 1014.0L225.6 1008.0 M255.5 1007.3L260.6 1004.3 M267.1 1008.0L267.1 1014.0 M260.6 1017.7L255.5 1014.7 M209.5 1015.2L202.2 1019.5 M202.2 1019.5L194.8 1015.2 M216.9 1002.5L216.9 994.0 M218.3 1002.5L218.3 994.0 M216.9 1019.5L216.9 1028.0 M215.5 1019.5L215.5 1028.0 M231.6 1002.5L231.6 994.0 M231.6 1019.5L231.6 1028.0 M246.3 1002.5L246.3 994.0 M247.7 1002.5L247.7 994.0 M261.1 1002.5L261.1 994.0 M268.4 1015.2L275.8 1019.5 M275.8 1019.5L275.8 1028.0" stroke="#383838" stroke-width="1.0" fill="none" stroke-linecap="round"/>
<text x="199.9" y="1021.6" font-size="5.9" fill="#e8303f" text-anchor="start" class="lb">O</text>
<text x="214.6" y="996.1" font-size="5.9" fill="#e8303f" text-anchor="start" class="lb">O</text>
<text x="214.6" y="1030.1" font-size="5.9" fill="#e8303f" text-anchor="start" class="lb">O</text>
<text x="229.3" y="996.1" font-size="5.9" fill="#e8303f" text-anchor="start" class="lb">O<tspan dy="-2.4" font-size="4.2">-</tspan></text>
<text x="229.3" y="1030.1" font-size="5.9" fill="#e8303f" text-anchor="start" class="lb">OH</text>
<text x="244.0" y="996.1" font-size="5.9" fill="#e8303f" text-anchor="start" class="lb">O</text>
<text x="244.0" y="1021.6" font-size="5.9" fill="#e8303f" text-anchor="start" class="lb">O</text>
<text x="273.5" y="1021.6" font-size="5.9" fill="#e8303f" text-anchor="start" class="lb">O</text>
<path d="M299.6 1007.5L307.0 1003.3 M307.0 1003.3L314.4 1007.5 M314.4 1007.5L314.4 1016.0 M314.4 1016.0L307.0 1020.3 M307.0 1020.3L299.6 1016.0 M299.6 1016.0L299.6 1007.5 M314.4 1007.5L321.7 1003.3 M321.7 1003.3L329.1 1007.5 M329.1 1007.5L329.1 1016.0 M329.1 1016.0L321.7 1020.3 M321.7 1020.3L314.4 1016.0 M329.1 1007.5L336.4 1003.3 M336.4 1003.3L343.8 1007.5 M343.8 1007.5L343.8 1016.0 M343.8 1016.0L336.4 1020.3 M336.4 1020.3L329.1 1016.0 M343.8 1007.5L351.2 1003.3 M351.2 1003.3L358.5 1007.5 M358.5 1007.5L358.5 1016.0 M358.5 1016.0L351.2 1020.3 M351.2 1020.3L343.8 1016.0 M301.0 1014.8L301.0 1008.8 M322.1 1005.1L327.3 1008.1 M327.3 1015.5L322.1 1018.5 M315.7 1014.8L315.7 1008.8 M345.6 1008.1L350.7 1005.1 M357.2 1008.8L357.2 1014.8 M350.7 1018.5L345.6 1015.5 M299.6 1016.0L292.3 1020.3 M292.3 1020.3L284.9 1016.0 M307.0 1003.3L307.0 994.8 M308.4 1003.3L308.4 994.8 M307.0 1020.3L307.0 1028.8 M305.6 1020.3L305.6 1028.8 M321.7 1003.3L321.7 994.8 M321.7 1020.3L321.7 1028.8 M336.4 1003.3L336.4 994.8 M337.8 1003.3L337.8 994.8 M351.2 1003.3L351.2 994.8 M358.5 1016.0L365.9 1020.3 M365.9 1020.3L365.9 1028.8" stroke="#383838" stroke-width="1.0" fill="none" stroke-linecap="round"/>
<text x="290.0" y="1022.4" font-size="5.9" fill="#e8303f" text-anchor="start" class="lb">O</text>
<text x="304.7" y="996.9" font-size="5.9" fill="#e8303f" text-anchor="start" class="lb">O</text>
<text x="304.7" y="1030.9" font-size="5.9" fill="#e8303f" text-anchor="start" class="lb">O</text>
<text x="319.4" y="996.9" font-size="5.9" fill="#e8303f" text-anchor="start" class="lb">OH</text>
<text x="319.4" y="1030.9" font-size="5.9" fill="#e8303f" text-anchor="start" class="lb">OH</text>
<text x="334.1" y="996.9" font-size="5.9" fill="#e8303f" text-anchor="start" class="lb">O</text>
<text x="334.1" y="1022.4" font-size="5.9" fill="#e8303f" text-anchor="start" class="lb">O</text>
<text x="363.6" y="1022.4" font-size="5.9" fill="#e8303f" text-anchor="start" class="lb">O</text>
<path d="M401.8 997.0L409.2 992.7 M409.2 992.7L416.6 997.0 M416.6 997.0L416.6 1005.5 M416.6 1005.5L409.2 1009.7 M409.2 1009.7L401.8 1005.5 M401.8 1005.5L401.8 997.0 M416.6 997.0L423.9 992.7 M423.9 992.7L431.3 997.0 M431.3 997.0L431.3 1005.5 M431.3 1005.5L423.9 1009.7 M423.9 1009.7L416.6 1005.5 M431.3 997.0L438.6 992.7 M438.6 992.7L446.0 997.0 M446.0 997.0L446.0 1005.5 M446.0 1005.5L438.6 1009.7 M438.6 1009.7L431.3 1005.5 M446.0 997.0L453.4 992.7 M453.4 992.7L460.7 997.0 M460.7 997.0L460.7 1005.5 M460.7 1005.5L453.4 1009.7 M453.4 1009.7L446.0 1005.5 M403.2 1004.2L403.2 998.2 M424.3 994.5L429.5 997.5 M429.5 1004.9L424.3 1007.9 M417.9 1004.2L417.9 998.2 M447.8 997.5L452.9 994.5 M459.4 998.2L459.4 1004.2 M452.9 1007.9L447.8 1004.9 M401.8 1005.5L394.5 1009.7 M394.5 1009.7L387.1 1005.5 M409.2 992.7L409.2 984.2 M410.6 992.7L410.6 984.2 M409.2 1009.7L409.2 1018.2 M407.8 1009.7L407.8 1018.2 M423.9 992.7L423.9 984.2 M423.9 1009.7L423.9 1018.2 M423.9 1018.2L431.3 1022.5 M431.3 1022.5L431.3 1031.0 M431.3 1031.0L438.6 1035.2 M438.6 992.7L438.6 984.2 M440.0 992.7L440.0 984.2 M453.4 992.7L453.4 984.2 M460.7 1005.5L468.1 1009.7 M468.1 1009.7L468.1 1018.2" stroke="#383838" stroke-width="1.0" fill="none" stroke-linecap="round"/>
<text x="392.2" y="1011.8" font-size="5.9" fill="#e8303f" text-anchor="start" class="lb">O</text>
<text x="406.9" y="986.3" font-size="5.9" fill="#e8303f" text-anchor="start" class="lb">O</text>
<text x="406.9" y="1020.3" font-size="5.9" fill="#e8303f" text-anchor="start" class="lb">O</text>
<text x="421.6" y="986.3" font-size="5.9" fill="#e8303f" text-anchor="start" class="lb">OH</text>
<text x="426.1" y="1020.3" font-size="5.9" fill="#3434f0" text-anchor="end" class="lb"><tspan font-size="4.2" dy="-2.1">+</tspan><tspan dy="2.1">H</tspan><tspan font-size="4.2" dy="1.8">2</tspan><tspan dy="-1.8">N</tspan></text>
<text x="436.3" y="1037.3" font-size="5.9" fill="#e8303f" text-anchor="start" class="lb">OH</text>
<text x="436.3" y="986.3" font-size="5.9" fill="#e8303f" text-anchor="start" class="lb">O</text>
<text x="436.3" y="1011.8" font-size="5.9" fill="#e8303f" text-anchor="start" class="lb">O</text>
<text x="465.8" y="1011.8" font-size="5.9" fill="#e8303f" text-anchor="start" class="lb">O</text>
<path d="M500.1 997.5L507.5 993.3 M507.5 993.3L514.9 997.5 M514.9 997.5L514.9 1006.0 M514.9 1006.0L507.5 1010.3 M507.5 1010.3L500.1 1006.0 M500.1 1006.0L500.1 997.5 M514.9 997.5L522.2 993.3 M522.2 993.3L529.6 997.5 M529.6 997.5L529.6 1006.0 M529.6 1006.0L522.2 1010.3 M522.2 1010.3L514.9 1006.0 M529.6 997.5L536.9 993.3 M536.9 993.3L544.3 997.5 M544.3 997.5L544.3 1006.0 M544.3 1006.0L536.9 1010.3 M536.9 1010.3L529.6 1006.0 M544.3 997.5L551.7 993.3 M551.7 993.3L559.0 997.5 M559.0 997.5L559.0 1006.0 M559.0 1006.0L551.7 1010.3 M551.7 1010.3L544.3 1006.0 M501.5 1004.8L501.5 998.8 M522.6 995.1L527.8 998.1 M527.8 1005.5L522.6 1008.5 M516.2 1004.8L516.2 998.8 M546.1 998.1L551.2 995.1 M557.7 998.8L557.7 1004.8 M551.2 1008.5L546.1 1005.5 M500.1 1006.0L492.8 1010.3 M492.8 1010.3L485.4 1006.0 M507.5 993.3L507.5 984.8 M508.9 993.3L508.9 984.8 M507.5 1010.3L507.5 1018.8 M506.1 1010.3L506.1 1018.8 M522.2 993.3L522.2 984.8 M522.2 1010.3L522.2 1018.8 M522.2 1018.8L529.6 1023.0 M529.6 1023.0L529.6 1031.5 M529.6 1031.5L536.9 1035.8 M536.9 993.3L536.9 984.8 M538.3 993.3L538.3 984.8 M551.7 993.3L551.7 984.8 M559.0 1006.0L566.4 1010.3 M566.4 1010.3L566.4 1018.8" stroke="#383838" stroke-width="1.0" fill="none" stroke-linecap="round"/>
<text x="490.5" y="1012.4" font-size="5.9" fill="#e8303f" text-anchor="start" class="lb">O</text>
<text x="505.2" y="986.9" font-size="5.9" fill="#e8303f" text-anchor="start" class="lb">O</text>
<text x="505.2" y="1020.9" font-size="5.9" fill="#e8303f" text-anchor="start" class="lb">O</text>
<text x="519.9" y="986.9" font-size="5.9" fill="#e8303f" text-anchor="start" class="lb">OH</text>
<text x="524.4" y="1020.9" font-size="5.9" fill="#3434f0" text-anchor="end" class="lb">HN</text>
<text x="534.6" y="1037.9" font-size="5.9" fill="#e8303f" text-anchor="start" class="lb">OH</text>
<text x="534.6" y="986.9" font-size="5.9" fill="#e8303f" text-anchor="start" class="lb">O</text>
<text x="534.6" y="1012.4" font-size="5.9" fill="#e8303f" text-anchor="start" class="lb">O</text>
<text x="564.1" y="1012.4" font-size="5.9" fill="#e8303f" text-anchor="start" class="lb">O</text>
<path d="M595.9 998.5L603.3 994.3 M603.3 994.3L610.7 998.5 M610.7 998.5L610.7 1007.0 M610.7 1007.0L603.3 1011.3 M603.3 1011.3L595.9 1007.0 M595.9 1007.0L595.9 998.5 M610.7 998.5L618.0 994.3 M618.0 994.3L625.4 998.5 M625.4 998.5L625.4 1007.0 M625.4 1007.0L618.0 1011.3 M618.0 1011.3L610.7 1007.0 M625.4 998.5L632.7 994.3 M632.7 994.3L640.1 998.5 M640.1 998.5L640.1 1007.0 M640.1 1007.0L632.7 1011.3 M632.7 1011.3L625.4 1007.0 M640.1 998.5L647.5 994.3 M647.5 994.3L654.8 998.5 M654.8 998.5L654.8 1007.0 M654.8 1007.0L647.5 1011.3 M647.5 1011.3L640.1 1007.0 M597.3 1005.8L597.3 999.8 M618.4 996.1L623.6 999.1 M623.6 1006.5L618.4 1009.5 M612.0 1005.8L612.0 999.8 M641.9 999.1L647.0 996.1 M653.5 999.8L653.5 1005.8 M647.0 1009.5L641.9 1006.5 M595.9 1007.0L588.6 1011.3 M588.6 1011.3L581.2 1007.0 M603.3 994.3L603.3 985.8 M604.7 994.3L604.7 985.8 M603.3 1011.3L603.3 1019.8 M601.9 1011.3L601.9 1019.8 M618.0 994.3L618.0 985.8 M618.0 1011.3L618.0 1019.8 M618.0 1019.8L625.4 1024.0 M625.4 1024.0L625.4 1032.5 M625.4 1032.5L632.7 1036.8 M632.7 994.3L632.7 985.8 M634.1 994.3L634.1 985.8 M647.5 994.3L647.5 985.8 M654.8 1007.0L662.2 1011.3 M662.2 1011.3L662.2 1019.8" stroke="#383838" stroke-width="1.0" fill="none" stroke-linecap="round"/>
<text x="586.3" y="1013.4" font-size="5.9" fill="#e8303f" text-anchor="start" class="lb">O</text>
<text x="601.0" y="987.9" font-size="5.9" fill="#e8303f" text-anchor="start" class="lb">O</text>
<text x="601.0" y="1021.9" font-size="5.9" fill="#e8303f" text-anchor="start" class="lb">O</text>
<text x="615.7" y="987.9" font-size="5.9" fill="#e8303f" text-anchor="start" class="lb">O<tspan dy="-2.4" font-size="4.2">-</tspan></text>
<text x="620.2" y="1021.9" font-size="5.9" fill="#3434f0" text-anchor="end" class="lb">HN</text>
<text x="630.4" y="1038.9" font-size="5.9" fill="#e8303f" text-anchor="start" class="lb">OH</text>
<text x="630.4" y="987.9" font-size="5.9" fill="#e8303f" text-anchor="start" class="lb">O</text>
<text x="630.4" y="1013.4" font-size="5.9" fill="#e8303f" text-anchor="start" class="lb">O</text>
<text x="659.9" y="1013.4" font-size="5.9" fill="#e8303f" text-anchor="start" class="lb">O</text>
</g>
<text x="4.3" y="787.6" font-size="34.5" fill="#000">C</text>
<rect x="54.599999999999994" y="778.4" width="272.2" height="19.7" rx="2.5" fill="#8a8a8a" opacity="0.85"/>
<rect x="53.3" y="777.1" width="272.2" height="19.7" rx="2.5" fill="#fff" stroke="#dcdcdc" stroke-width="0.8"/>
<line x1="57.3" y1="785.5" x2="80.1" y2="785.5" stroke="#1f77b4" stroke-width="1.3"/>
<text x="88.8" y="789.7" font-size="12.2" fill="#222">0</text>
<line x1="131.4" y1="785.5" x2="155" y2="785.5" stroke="#ff7f0e" stroke-width="1.3"/>
<text x="160.3" y="789.7" font-size="12.2" fill="#222">1</text>
<line x1="206.5" y1="785.5" x2="229.6" y2="785.5" stroke="#2ca02c" stroke-width="1.3"/>
<text x="237.9" y="789.7" font-size="12.2" fill="#222">2</text>
<line x1="280.9" y1="785.5" x2="304.5" y2="785.5" stroke="#d62728" stroke-width="1.3"/>
<text x="313.3" y="789.7" font-size="12.2" fill="#222">3</text>
<rect x="53.1" y="801.5" width="271.9" height="64.4" fill="#fff" stroke="#9a9a9a" stroke-width="1.3"/>
<polyline points="65.2,863.3 66.7,863.3 68.3,863.3 69.8,863.3 71.4,863.3 72.9,863.3 74.4,863.3 76.0,863.3 77.5,863.3 79.1,863.3 80.6,863.3 82.2,863.3 83.7,863.3 85.3,863.3 86.8,863.3 88.4,863.3 89.9,863.3 91.5,863.3 93.0,863.3 94.6,863.3 96.1,863.3 97.7,863.3 99.2,863.3 100.8,863.3 102.3,863.3 103.8,863.3 105.4,863.3 106.9,863.3 108.5,863.3 110.0,863.3 111.6,863.3 113.1,863.3 114.7,863.3 116.2,863.3 117.8,863.3 119.3,863.3 120.9,863.3 122.4,863.3 124.0,863.3 125.5,863.3 127.1,863.3 128.6,863.3 130.2,863.3 131.7,863.3 133.2,863.3 134.8,863.3 136.3,863.3 137.9,863.3 139.4,863.3 141.0,863.3 142.5,863.3 144.1,863.3 145.6,863.3 147.2,863.3 148.7,863.3 150.3,863.3 151.8,863.3 153.4,863.3 154.9,863.3 156.5,863.3 158.0,863.3 159.6,863.3 161.1,863.3 162.6,863.3 164.2,863.3 165.7,863.3 167.3,863.3 168.8,863.3 170.4,863.3 171.9,863.3 173.5,863.3 175.0,863.3 176.6,863.3 178.1,863.3 179.7,863.3 181.2,863.3 182.8,863.3 184.3,863.3 185.9,863.3 187.4,863.3 189.0,863.3 190.5,863.3 192.0,863.3 193.6,863.3 195.1,863.2 196.7,863.2 198.2,863.2 199.8,863.1 201.3,863.0 202.9,863.0 204.4,862.8 206.0,862.7 207.5,862.5 209.1,862.3 210.6,862.0 212.2,861.6 213.7,861.1 215.3,860.6 216.8,859.9 218.3,859.1 219.9,858.2 221.4,857.1 223.0,855.8 224.5,854.3 226.1,852.5 227.6,850.6 229.2,848.4 230.7,846.0 232.3,843.4 233.8,840.6 235.4,837.7 236.9,834.8 238.5,831.8 240.0,828.9 241.6,826.1 243.1,823.4 244.7,820.9 246.2,818.6 247.7,816.5 249.3,814.7 250.8,813.1 252.4,811.6 253.9,810.4 255.5,809.4 257.0,808.5 258.6,807.8 260.1,807.1 261.7,806.6 263.2,806.2 264.8,805.8 266.3,805.5 267.9,805.3 269.4,805.1 271.0,804.9 272.5,804.7 274.1,804.6 275.6,804.5 277.1,804.5 278.7,804.4 280.2,804.3 281.8,804.3 283.3,804.3 284.9,804.2 286.4,804.2 288.0,804.2 289.5,804.2 291.1,804.2 292.6,804.1 294.2,804.1 295.7,804.1 297.3,804.1 298.8,804.1 300.4,804.1 301.9,804.1 303.5,804.1 305.0,804.1 306.5,804.1 308.1,804.1 309.6,804.1 311.2,804.1 312.7,804.1" fill="none" stroke="#1f77b4" stroke-width="1.15"/>
<polyline points="65.2,863.3 66.7,863.3 68.3,863.3 69.8,863.3 71.4,863.3 72.9,863.3 74.4,863.3 76.0,863.3 77.5,863.3 79.1,863.3 80.6,863.3 82.2,863.3 83.7,863.3 85.3,863.3 86.8,863.3 88.4,863.3 89.9,863.3 91.5,863.3 93.0,863.3 94.6,863.3 96.1,863.3 97.7,863.3 99.2,863.3 100.8,863.3 102.3,863.3 103.8,863.3 105.4,863.3 106.9,863.3 108.5,863.3 110.0,863.3 111.6,863.3 113.1,863.3 114.7,863.3 116.2,863.3 117.8,863.3 119.3,863.3 120.9,863.3 122.4,863.3 124.0,863.3 125.5,863.3 127.1,863.3 128.6,863.3 130.2,863.3 131.7,863.3 133.2,863.3 134.8,863.3 136.3,863.3 137.9,863.3 139.4,863.3 141.0,863.3 142.5,863.3 144.1,863.3 145.6,863.3 147.2,863.3 148.7,863.2 150.3,863.2 151.8,863.2 153.4,863.2 154.9,863.2 156.5,863.2 158.0,863.1 159.6,863.1 161.1,863.0 162.6,863.0 164.2,862.9 165.7,862.8 167.3,862.7 168.8,862.6 170.4,862.4 171.9,862.3 173.5,862.0 175.0,861.8 176.6,861.4 178.1,861.1 179.7,860.6 181.2,860.0 182.8,859.3 184.3,858.5 185.9,857.6 187.4,856.5 189.0,855.2 190.5,853.7 192.0,852.0 193.6,850.1 195.1,847.9 196.7,845.6 198.2,843.0 199.8,840.3 201.3,837.5 202.9,834.7 204.4,831.8 206.0,829.0 207.5,826.4 209.1,823.9 210.6,821.7 212.2,819.8 213.7,818.1 215.3,816.8 216.8,815.9 218.3,815.2 219.9,815.0 221.4,815.0 223.0,815.5 224.5,816.2 226.1,817.3 227.6,818.8 229.2,820.6 230.7,822.6 232.3,824.9 233.8,827.5 235.4,830.2 236.9,833.0 238.5,835.9 240.0,838.7 241.6,841.5 243.1,844.1 244.7,846.6 246.2,848.9 247.7,850.9 249.3,852.8 250.8,854.4 252.4,855.8 253.9,857.0 255.5,858.0 257.0,858.9 258.6,859.6 260.1,860.3 261.7,860.8 263.2,861.2 264.8,861.6 266.3,861.9 267.9,862.1 269.4,862.3 271.0,862.5 272.5,862.7 274.1,862.8 275.6,862.9 277.1,862.9 278.7,863.0 280.2,863.1 281.8,863.1 283.3,863.1 284.9,863.2 286.4,863.2 288.0,863.2 289.5,863.2 291.1,863.2 292.6,863.3 294.2,863.3 295.7,863.3 297.3,863.3 298.8,863.3 300.4,863.3 301.9,863.3 303.5,863.3 305.0,863.3 306.5,863.3 308.1,863.3 309.6,863.3 311.2,863.3 312.7,863.3" fill="none" stroke="#ff7f0e" stroke-width="1.15"/>
<polyline points="65.2,863.3 66.7,863.3 68.3,863.3 69.8,863.3 71.4,863.3 72.9,863.3 74.4,863.3 76.0,863.3 77.5,863.3 79.1,863.3 80.6,863.3 82.2,863.3 83.7,863.3 85.3,863.3 86.8,863.3 88.4,863.3 89.9,863.3 91.5,863.3 93.0,863.3 94.6,863.3 96.1,863.3 97.7,863.3 99.2,863.3 100.8,863.3 102.3,863.3 103.8,863.3 105.4,863.3 106.9,863.3 108.5,863.3 110.0,863.3 111.6,863.3 113.1,863.3 114.7,863.3 116.2,863.3 117.8,863.3 119.3,863.3 120.9,863.3 122.4,863.3 124.0,863.3 125.5,863.3 127.1,863.3 128.6,863.3 130.2,863.3 131.7,863.3 133.2,863.3 134.8,863.3 136.3,863.3 137.9,863.3 139.4,863.3 141.0,863.3 142.5,863.3 144.1,863.3 145.6,863.3 147.2,863.3 148.7,863.3 150.3,863.3 151.8,863.3 153.4,863.3 154.9,863.3 156.5,863.3 158.0,863.3 159.6,863.3 161.1,863.3 162.6,863.3 164.2,863.3 165.7,863.3 167.3,863.3 168.8,863.3 170.4,863.3 171.9,863.3 173.5,863.3 175.0,863.3 176.6,863.3 178.1,863.3 179.7,863.3 181.2,863.3 182.8,863.3 184.3,863.3 185.9,863.3 187.4,863.3 189.0,863.3 190.5,863.3 192.0,863.3 193.6,863.3 195.1,863.3 196.7,863.3 198.2,863.3 199.8,863.3 201.3,863.3 202.9,863.3 204.4,863.3 206.0,863.3 207.5,863.3 209.1,863.3 210.6,863.3 212.2,863.3 213.7,863.3 215.3,863.3 216.8,863.3 218.3,863.3 219.9,863.3 221.4,863.3 223.0,863.3 224.5,863.3 226.1,863.3 227.6,863.3 229.2,863.3 230.7,863.3 232.3,863.3 233.8,863.3 235.4,863.3 236.9,863.3 238.5,863.3 240.0,863.3 241.6,863.3 243.1,863.3 244.7,863.3 246.2,863.3 247.7,863.3 249.3,863.3 250.8,863.3 252.4,863.3 253.9,863.3 255.5,863.3 257.0,863.3 258.6,863.3 260.1,863.3 261.7,863.3 263.2,863.3 264.8,863.3 266.3,863.3 267.9,863.3 269.4,863.3 271.0,863.3 272.5,863.3 274.1,863.3 275.6,863.3 277.1,863.3 278.7,863.3 280.2,863.3 281.8,863.3 283.3,863.3 284.9,863.3 286.4,863.3 288.0,863.3 289.5,863.3 291.1,863.3 292.6,863.3 294.2,863.3 295.7,863.3 297.3,863.3 298.8,863.3 300.4,863.3 301.9,863.3 303.5,863.3 305.0,863.3 306.5,863.3 308.1,863.3 309.6,863.3 311.2,863.3 312.7,863.3" fill="none" stroke="#2ca02c" stroke-width="1.15"/>
<polyline points="65.2,804.1 66.7,804.1 68.3,804.1 69.8,804.1 71.4,804.1 72.9,804.1 74.4,804.1 76.0,804.1 77.5,804.1 79.1,804.1 80.6,804.1 82.2,804.1 83.7,804.1 85.3,804.1 86.8,804.1 88.4,804.1 89.9,804.1 91.5,804.1 93.0,804.1 94.6,804.1 96.1,804.1 97.7,804.1 99.2,804.1 100.8,804.1 102.3,804.1 103.8,804.1 105.4,804.1 106.9,804.1 108.5,804.1 110.0,804.1 111.6,804.1 113.1,804.1 114.7,804.1 116.2,804.1 117.8,804.1 119.3,804.1 120.9,804.1 122.4,804.1 124.0,804.1 125.5,804.1 127.1,804.1 128.6,804.1 130.2,804.1 131.7,804.1 133.2,804.1 134.8,804.1 136.3,804.1 137.9,804.1 139.4,804.1 141.0,804.1 142.5,804.1 144.1,804.1 145.6,804.1 147.2,804.1 148.7,804.2 150.3,804.2 151.8,804.2 153.4,804.2 154.9,804.2 156.5,804.2 158.0,804.3 159.6,804.3 161.1,804.4 162.6,804.4 164.2,804.5 165.7,804.6 167.3,804.7 168.8,804.8 170.4,805.0 171.9,805.1 173.5,805.4 175.0,805.6 176.6,806.0 178.1,806.3 179.7,806.8 181.2,807.4 182.8,808.1 184.3,808.9 185.9,809.8 187.4,810.9 189.0,812.2 190.5,813.7 192.0,815.4 193.6,817.4 195.1,819.5 196.7,821.9 198.2,824.5 199.8,827.2 201.3,830.1 202.9,833.1 204.4,836.0 206.0,839.0 207.5,841.8 209.1,844.5 210.6,847.0 212.2,849.3 213.7,851.4 215.3,853.3 216.8,854.9 218.3,856.3 219.9,857.6 221.4,858.6 223.0,859.5 224.5,860.2 226.1,860.8 227.6,861.3 229.2,861.8 230.7,862.1 232.3,862.4 233.8,862.6 235.4,862.8 236.9,862.9 238.5,863.0 240.0,863.1 241.6,863.1 243.1,863.2 244.7,863.2 246.2,863.2 247.7,863.3 249.3,863.3 250.8,863.3 252.4,863.3 253.9,863.3 255.5,863.3 257.0,863.3 258.6,863.3 260.1,863.3 261.7,863.3 263.2,863.3 264.8,863.3 266.3,863.3 267.9,863.3 269.4,863.3 271.0,863.3 272.5,863.3 274.1,863.3 275.6,863.3 277.1,863.3 278.7,863.3 280.2,863.3 281.8,863.3 283.3,863.3 284.9,863.3 286.4,863.3 288.0,863.3 289.5,863.3 291.1,863.3 292.6,863.3 294.2,863.3 295.7,863.3 297.3,863.3 298.8,863.3 300.4,863.3 301.9,863.3 303.5,863.3 305.0,863.3 306.5,863.3 308.1,863.3 309.6,863.3 311.2,863.3 312.7,863.3" fill="none" stroke="#d62728" stroke-width="1.15"/>
<line x1="50" y1="805.2" x2="53.3" y2="805.2" stroke="#555" stroke-width="0.8"/>
<text x="48.5" y="809.6" font-size="12" text-anchor="end" fill="#222">1</text>
<line x1="50" y1="863.3" x2="53.3" y2="863.3" stroke="#555" stroke-width="0.8"/>
<text x="48.5" y="867.7" font-size="12" text-anchor="end" fill="#222">0</text>
<text transform="translate(34.6,834.5) rotate(-90)" font-size="11.8" text-anchor="middle" fill="#222" textLength="59" lengthAdjust="spacingAndGlyphs">Molar ratio</text>
<text x="189.5" y="877.8" font-size="12" text-anchor="middle" fill="#222">pH</text>
<defs><linearGradient id="gC" x1="65.2" x2="312.2" y1="0" y2="0" gradientUnits="userSpaceOnUse"><stop offset="0.0000" stop-color="#f53c22"/><stop offset="0.4486" stop-color="#f63c28"/><stop offset="0.4810" stop-color="#f53538"/><stop offset="0.5032" stop-color="#f43352"/><stop offset="0.5154" stop-color="#f838a0"/><stop offset="0.5275" stop-color="#ff40ff"/><stop offset="0.5393" stop-color="#d020ff"/><stop offset="0.5486" stop-color="#8010ff"/><stop offset="0.5628" stop-color="#3a00ff"/><stop offset="0.5822" stop-color="#1400ff"/><stop offset="0.6308" stop-color="#1400ff"/><stop offset="0.6595" stop-color="#2a10ff"/><stop offset="0.6773" stop-color="#4050ff"/><stop offset="0.7020" stop-color="#5080ff"/><stop offset="0.7304" stop-color="#5ca0ff"/><stop offset="0.7591" stop-color="#64b8ff"/><stop offset="0.7907" stop-color="#6cccff"/><stop offset="0.8190" stop-color="#70d2ff"/><stop offset="1.0000" stop-color="#70d4ff"/></linearGradient><linearGradient id="gD" x1="398" x2="643.1" y1="0" y2="0" gradientUnits="userSpaceOnUse"><stop offset="0.0000" stop-color="#e8bc38"/><stop offset="0.0714" stop-color="#e8bc3a"/><stop offset="0.0881" stop-color="#e8b460"/><stop offset="0.1000" stop-color="#ecb0a0"/><stop offset="0.1098" stop-color="#f0c8e8"/><stop offset="0.1155" stop-color="#f4d0ff"/><stop offset="0.1216" stop-color="#c8a8ff"/><stop offset="0.1310" stop-color="#9080ff"/><stop offset="0.1428" stop-color="#5040ff"/><stop offset="0.1571" stop-color="#2000ff"/><stop offset="0.1714" stop-color="#1400ff"/><stop offset="0.5769" stop-color="#1400ff"/><stop offset="0.6038" stop-color="#3010ff"/><stop offset="0.6242" stop-color="#4050ff"/><stop offset="0.6483" stop-color="#5090ff"/><stop offset="0.6720" stop-color="#68c0ff"/><stop offset="0.6928" stop-color="#78e8ff"/><stop offset="0.7140" stop-color="#80f8ff"/><stop offset="0.7377" stop-color="#84ffff"/><stop offset="1.0000" stop-color="#84ffff"/></linearGradient></defs>
<rect x="52.9" y="880.5" width="272.4" height="72.5" fill="#fff" stroke="#9a9a9a" stroke-width="1.3"/>
<rect x="65.2" y="884.2" width="247" height="68.7" fill="url(#gC)"/>
<line x1="54.3" y1="953" x2="54.3" y2="956.3" stroke="#555" stroke-width="0.8"/>
<text x="54.3" y="966.1" font-size="12.5" text-anchor="middle" fill="#222">0</text>
<line x1="90.2" y1="953" x2="90.2" y2="956.3" stroke="#555" stroke-width="0.8"/>
<text x="90.2" y="966.1" font-size="12.5" text-anchor="middle" fill="#222">2</text>
<line x1="126.1" y1="953" x2="126.1" y2="956.3" stroke="#555" stroke-width="0.8"/>
<text x="126.1" y="966.1" font-size="12.5" text-anchor="middle" fill="#222">4</text>
<line x1="161.9" y1="953" x2="161.9" y2="956.3" stroke="#555" stroke-width="0.8"/>
<text x="161.9" y="966.1" font-size="12.5" text-anchor="middle" fill="#222">6</text>
<line x1="197.8" y1="953" x2="197.8" y2="956.3" stroke="#555" stroke-width="0.8"/>
<text x="197.8" y="966.1" font-size="12.5" text-anchor="middle" fill="#222">8</text>
<line x1="233.7" y1="953" x2="233.7" y2="956.3" stroke="#555" stroke-width="0.8"/>
<text x="233.7" y="966.1" font-size="12.5" text-anchor="middle" fill="#222">10</text>
<line x1="269.6" y1="953" x2="269.6" y2="956.3" stroke="#555" stroke-width="0.8"/>
<text x="269.6" y="966.1" font-size="12.5" text-anchor="middle" fill="#222">12</text>
<line x1="305.5" y1="953" x2="305.5" y2="956.3" stroke="#555" stroke-width="0.8"/>
<text x="305.5" y="966.1" font-size="12.5" text-anchor="middle" fill="#222">14</text>
<text x="345.3" y="787.5" font-size="34.5" fill="#000">D</text>
<rect x="387.8" y="777.9" width="270.1" height="19.4" rx="2.5" fill="#8a8a8a" opacity="0.85"/>
<rect x="386.5" y="776.6" width="270.1" height="19.4" rx="2.5" fill="#fff" stroke="#dcdcdc" stroke-width="0.8"/>
<line x1="389.9" y1="785.0" x2="413" y2="785.0" stroke="#1f77b4" stroke-width="1.3"/>
<text x="421.6" y="789.2" font-size="12.2" fill="#222">0</text>
<line x1="500.8" y1="785.0" x2="524.2" y2="785.0" stroke="#ff7f0e" stroke-width="1.3"/>
<text x="533.2" y="789.2" font-size="12.2" fill="#222">1</text>
<line x1="612.2" y1="785.0" x2="635.8" y2="785.0" stroke="#2ca02c" stroke-width="1.3"/>
<text x="644.1" y="789.2" font-size="12.2" fill="#222">2</text>
<rect x="386.3" y="800.7" width="269.3" height="64.4" fill="#fff" stroke="#9a9a9a" stroke-width="1.3"/>
<polyline points="397.9,862.5 399.4,862.5 401.0,862.5 402.5,862.5 404.0,862.5 405.6,862.5 407.1,862.5 408.6,862.5 410.2,862.5 411.7,862.5 413.2,862.5 414.8,862.5 416.3,862.5 417.8,862.5 419.4,862.5 420.9,862.5 422.4,862.5 424.0,862.5 425.5,862.5 427.0,862.5 428.6,862.5 430.1,862.5 431.7,862.5 433.2,862.5 434.7,862.5 436.3,862.5 437.8,862.5 439.3,862.5 440.9,862.5 442.4,862.5 443.9,862.5 445.5,862.5 447.0,862.5 448.5,862.5 450.1,862.5 451.6,862.5 453.1,862.5 454.7,862.5 456.2,862.5 457.8,862.5 459.3,862.5 460.8,862.5 462.4,862.5 463.9,862.5 465.4,862.5 467.0,862.5 468.5,862.5 470.0,862.5 471.6,862.5 473.1,862.5 474.6,862.5 476.2,862.5 477.7,862.5 479.2,862.5 480.8,862.5 482.3,862.5 483.9,862.5 485.4,862.5 486.9,862.5 488.5,862.5 490.0,862.5 491.5,862.5 493.1,862.5 494.6,862.5 496.1,862.5 497.7,862.5 499.2,862.4 500.7,862.4 502.3,862.4 503.8,862.4 505.3,862.4 506.9,862.3 508.4,862.3 510.0,862.3 511.5,862.2 513.0,862.2 514.6,862.1 516.1,862.0 517.6,861.9 519.2,861.7 520.7,861.6 522.2,861.4 523.8,861.1 525.3,860.8 526.8,860.5 528.4,860.1 529.9,859.6 531.4,859.0 533.0,858.2 534.5,857.4 536.1,856.4 537.6,855.2 539.1,853.8 540.7,852.3 542.2,850.5 543.7,848.5 545.3,846.2 546.8,843.8 548.3,841.1 549.9,838.4 551.4,835.5 552.9,832.6 554.5,829.6 556.0,826.8 557.5,824.0 559.1,821.5 560.6,819.1 562.2,816.9 563.7,814.9 565.2,813.2 566.8,811.7 568.3,810.4 569.8,809.2 571.4,808.3 572.9,807.5 574.4,806.8 576.0,806.2 577.5,805.7 579.0,805.3 580.6,805.0 582.1,804.7 583.6,804.5 585.2,804.3 586.7,804.1 588.3,804.0 589.8,803.9 591.3,803.8 592.9,803.7 594.4,803.7 595.9,803.6 597.5,803.6 599.0,803.5 600.5,803.5 602.1,803.5 603.6,803.5 605.1,803.5 606.7,803.5 608.2,803.4 609.7,803.4 611.3,803.4 612.8,803.4 614.4,803.4 615.9,803.4 617.4,803.4 619.0,803.4 620.5,803.4 622.0,803.4 623.6,803.4 625.1,803.4 626.6,803.4 628.2,803.4 629.7,803.4 631.2,803.4 632.8,803.4 634.3,803.4 635.8,803.4 637.4,803.4 638.9,803.4 640.4,803.4 642.0,803.4 643.5,803.4" fill="none" stroke="#1f77b4" stroke-width="1.15"/>
<polyline points="397.9,861.5 399.4,861.2 401.0,861.0 402.5,860.7 404.0,860.3 405.6,859.8 407.1,859.2 408.6,858.6 410.2,857.8 411.7,856.8 413.2,855.7 414.8,854.4 416.3,852.9 417.8,851.3 419.4,849.3 420.9,847.2 422.4,844.8 424.0,842.3 425.5,839.6 427.0,836.7 428.6,833.8 430.1,830.9 431.7,828.0 433.2,825.2 434.7,822.5 436.3,820.1 437.8,817.8 439.3,815.7 440.9,813.9 442.4,812.3 443.9,810.9 445.5,809.7 447.0,808.7 448.5,807.8 450.1,807.0 451.6,806.4 453.1,805.9 454.7,805.5 456.2,805.1 457.8,804.8 459.3,804.6 460.8,804.4 462.4,804.2 463.9,804.0 465.4,803.9 467.0,803.8 468.5,803.8 470.0,803.7 471.6,803.6 473.1,803.6 474.6,803.6 476.2,803.5 477.7,803.5 479.2,803.5 480.8,803.5 482.3,803.5 483.9,803.5 485.4,803.4 486.9,803.4 488.5,803.4 490.0,803.4 491.5,803.4 493.1,803.4 494.6,803.4 496.1,803.4 497.7,803.5 499.2,803.5 500.7,803.5 502.3,803.5 503.8,803.5 505.3,803.5 506.9,803.6 508.4,803.6 510.0,803.6 511.5,803.7 513.0,803.7 514.6,803.8 516.1,803.9 517.6,804.0 519.2,804.2 520.7,804.3 522.2,804.5 523.8,804.8 525.3,805.1 526.8,805.4 528.4,805.8 529.9,806.3 531.4,806.9 533.0,807.7 534.5,808.5 536.1,809.5 537.6,810.7 539.1,812.1 540.7,813.6 542.2,815.4 543.7,817.4 545.3,819.7 546.8,822.1 548.3,824.8 549.9,827.5 551.4,830.4 552.9,833.3 554.5,836.3 556.0,839.1 557.5,841.9 559.1,844.4 560.6,846.8 562.2,849.0 563.7,851.0 565.2,852.7 566.8,854.2 568.3,855.5 569.8,856.7 571.4,857.6 572.9,858.4 574.4,859.1 576.0,859.7 577.5,860.2 579.0,860.6 580.6,860.9 582.1,861.2 583.6,861.4 585.2,861.6 586.7,861.8 588.3,861.9 589.8,862.0 591.3,862.1 592.9,862.2 594.4,862.2 595.9,862.3 597.5,862.3 599.0,862.4 600.5,862.4 602.1,862.4 603.6,862.4 605.1,862.4 606.7,862.4 608.2,862.5 609.7,862.5 611.3,862.5 612.8,862.5 614.4,862.5 615.9,862.5 617.4,862.5 619.0,862.5 620.5,862.5 622.0,862.5 623.6,862.5 625.1,862.5 626.6,862.5 628.2,862.5 629.7,862.5 631.2,862.5 632.8,862.5 634.3,862.5 635.8,862.5 637.4,862.5 638.9,862.5 640.4,862.5 642.0,862.5 643.5,862.5" fill="none" stroke="#ff7f0e" stroke-width="1.15"/>
<polyline points="397.9,804.4 399.4,804.7 401.0,804.9 402.5,805.2 404.0,805.6 405.6,806.1 407.1,806.7 408.6,807.3 410.2,808.1 411.7,809.1 413.2,810.2 414.8,811.5 416.3,813.0 417.8,814.6 419.4,816.6 420.9,818.7 422.4,821.1 424.0,823.6 425.5,826.3 427.0,829.2 428.6,832.1 430.1,835.0 431.7,837.9 433.2,840.7 434.7,843.4 436.3,845.8 437.8,848.1 439.3,850.2 440.9,852.0 442.4,853.6 443.9,855.0 445.5,856.2 447.0,857.2 448.5,858.1 450.1,858.9 451.6,859.5 453.1,860.0 454.7,860.4 456.2,860.8 457.8,861.1 459.3,861.3 460.8,861.5 462.4,861.7 463.9,861.9 465.4,862.0 467.0,862.1 468.5,862.1 470.0,862.2 471.6,862.3 473.1,862.3 474.6,862.3 476.2,862.4 477.7,862.4 479.2,862.4 480.8,862.4 482.3,862.4 483.9,862.5 485.4,862.5 486.9,862.5 488.5,862.5 490.0,862.5 491.5,862.5 493.1,862.5 494.6,862.5 496.1,862.5 497.7,862.5 499.2,862.5 500.7,862.5 502.3,862.5 503.8,862.5 505.3,862.5 506.9,862.5 508.4,862.5 510.0,862.5 511.5,862.5 513.0,862.5 514.6,862.5 516.1,862.5 517.6,862.5 519.2,862.5 520.7,862.5 522.2,862.5 523.8,862.5 525.3,862.5 526.8,862.5 528.4,862.5 529.9,862.5 531.4,862.5 533.0,862.5 534.5,862.5 536.1,862.5 537.6,862.5 539.1,862.5 540.7,862.5 542.2,862.5 543.7,862.5 545.3,862.5 546.8,862.5 548.3,862.5 549.9,862.5 551.4,862.5 552.9,862.5 554.5,862.5 556.0,862.5 557.5,862.5 559.1,862.5 560.6,862.5 562.2,862.5 563.7,862.5 565.2,862.5 566.8,862.5 568.3,862.5 569.8,862.5 571.4,862.5 572.9,862.5 574.4,862.5 576.0,862.5 577.5,862.5 579.0,862.5 580.6,862.5 582.1,862.5 583.6,862.5 585.2,862.5 586.7,862.5 588.3,862.5 589.8,862.5 591.3,862.5 592.9,862.5 594.4,862.5 595.9,862.5 597.5,862.5 599.0,862.5 600.5,862.5 602.1,862.5 603.6,862.5 605.1,862.5 606.7,862.5 608.2,862.5 609.7,862.5 611.3,862.5 612.8,862.5 614.4,862.5 615.9,862.5 617.4,862.5 619.0,862.5 620.5,862.5 622.0,862.5 623.6,862.5 625.1,862.5 626.6,862.5 628.2,862.5 629.7,862.5 631.2,862.5 632.8,862.5 634.3,862.5 635.8,862.5 637.4,862.5 638.9,862.5 640.4,862.5 642.0,862.5 643.5,862.5" fill="none" stroke="#2ca02c" stroke-width="1.15"/>
<line x1="383.2" y1="804.1" x2="386.5" y2="804.1" stroke="#555" stroke-width="0.8"/>
<text x="381.5" y="808.5" font-size="12" text-anchor="end" fill="#222">1</text>
<line x1="383.2" y1="862.5" x2="386.5" y2="862.5" stroke="#555" stroke-width="0.8"/>
<text x="381.5" y="866.9" font-size="12" text-anchor="end" fill="#222">0</text>
<text transform="translate(367.6,833.5) rotate(-90)" font-size="11.8" text-anchor="middle" fill="#222" textLength="59" lengthAdjust="spacingAndGlyphs">Molar ratio</text>
<text x="521.2" y="877.8" font-size="12" text-anchor="middle" fill="#222">pH</text>
<rect x="386.0" y="879.9" width="269.5" height="71.4" fill="#fff" stroke="#9a9a9a" stroke-width="1.3"/>
<rect x="398" y="882.8" width="245.1" height="68.3" fill="url(#gD)"/>
<line x1="387.2" y1="951.3" x2="387.2" y2="954.6" stroke="#555" stroke-width="0.8"/>
<text x="387.2" y="964.4" font-size="12.5" text-anchor="middle" fill="#222">0</text>
<line x1="422.8" y1="951.3" x2="422.8" y2="954.6" stroke="#555" stroke-width="0.8"/>
<text x="422.8" y="964.4" font-size="12.5" text-anchor="middle" fill="#222">2</text>
<line x1="458.4" y1="951.3" x2="458.4" y2="954.6" stroke="#555" stroke-width="0.8"/>
<text x="458.4" y="964.4" font-size="12.5" text-anchor="middle" fill="#222">4</text>
<line x1="494.0" y1="951.3" x2="494.0" y2="954.6" stroke="#555" stroke-width="0.8"/>
<text x="494.0" y="964.4" font-size="12.5" text-anchor="middle" fill="#222">6</text>
<line x1="529.6" y1="951.3" x2="529.6" y2="954.6" stroke="#555" stroke-width="0.8"/>
<text x="529.6" y="964.4" font-size="12.5" text-anchor="middle" fill="#222">8</text>
<line x1="565.2" y1="951.3" x2="565.2" y2="954.6" stroke="#555" stroke-width="0.8"/>
<text x="565.2" y="964.4" font-size="12.5" text-anchor="middle" fill="#222">10</text>
<line x1="600.8" y1="951.3" x2="600.8" y2="954.6" stroke="#555" stroke-width="0.8"/>
<text x="600.8" y="964.4" font-size="12.5" text-anchor="middle" fill="#222">12</text>
<line x1="636.4" y1="951.3" x2="636.4" y2="954.6" stroke="#555" stroke-width="0.8"/>
<text x="636.4" y="964.4" font-size="12.5" text-anchor="middle" fill="#222">14</text>
<text x="61.2" y="1051.7" font-size="15.8" text-anchor="middle" fill="#111">0</text>
<text x="152.3" y="1051.7" font-size="15.8" text-anchor="middle" fill="#111">1</text>
<text x="240.9" y="1051.7" font-size="15.8" text-anchor="middle" fill="#111">2</text>
<text x="333.1" y="1051.7" font-size="15.8" text-anchor="middle" fill="#111">3</text>
<text x="430.0" y="1051.7" font-size="15.8" text-anchor="middle" fill="#111">0</text>
<text x="527.9" y="1051.7" font-size="15.8" text-anchor="middle" fill="#111">1</text>
<text x="620.8" y="1051.7" font-size="15.8" text-anchor="middle" fill="#111">2</text>
</svg>
</body></html>
